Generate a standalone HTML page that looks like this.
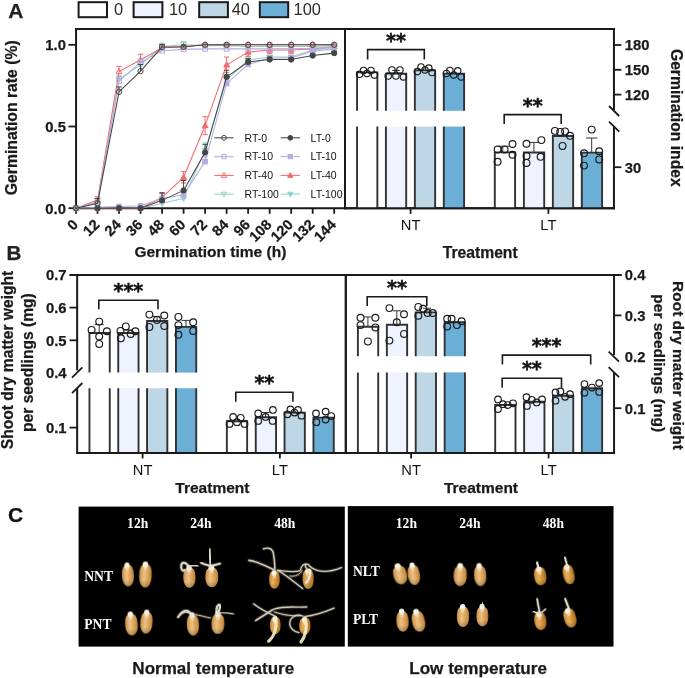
<!DOCTYPE html>
<html><head><meta charset="utf-8"><title>Figure</title>
<style>html,body{margin:0;padding:0;background:#fff}svg{display:block;opacity:0.999}</style></head>
<body>
<svg width="685" height="678" viewBox="0 0 685 678">
<rect width="685" height="678" fill="#fff"/>
<text x="8.30" y="17.90" font-family='"Liberation Sans", Arial, sans-serif' font-size="21" font-weight="bold" text-anchor="start" fill="#222"  stroke="#222" stroke-width="0.25">A</text>
<text x="6.50" y="260.00" font-family='"Liberation Sans", Arial, sans-serif' font-size="20.6" font-weight="bold" text-anchor="start" fill="#222"  stroke="#222" stroke-width="0.25">B</text>
<text x="8.00" y="522.20" font-family='"Liberation Sans", Arial, sans-serif' font-size="21.1" font-weight="bold" text-anchor="start" fill="#111"  stroke="#111" stroke-width="0.25">C</text>
<rect x="78.60" y="2.2" width="28.40" height="15.0" fill="#ffffff" stroke="#1a1a1a" stroke-width="2.0"/>
<text x="113.90" y="15.20" font-family='"Liberation Sans", Arial, sans-serif' font-size="16.4" font-weight="normal" text-anchor="start" fill="#2b2b2b" >0</text>
<rect x="133.60" y="2.2" width="28.80" height="15.0" fill="#eff3ff" stroke="#1a1a1a" stroke-width="2.0"/>
<text x="169.00" y="15.20" font-family='"Liberation Sans", Arial, sans-serif' font-size="16.4" font-weight="normal" text-anchor="start" fill="#2b2b2b" >10</text>
<rect x="199.20" y="2.2" width="28.70" height="15.0" fill="#bdd7e7" stroke="#1a1a1a" stroke-width="2.0"/>
<text x="231.70" y="15.20" font-family='"Liberation Sans", Arial, sans-serif' font-size="16.4" font-weight="normal" text-anchor="start" fill="#2b2b2b" >40</text>
<rect x="259.80" y="2.2" width="28.40" height="15.0" fill="#6baed6" stroke="#1a1a1a" stroke-width="2.0"/>
<text x="293.60" y="15.20" font-family='"Liberation Sans", Arial, sans-serif' font-size="16.4" font-weight="normal" text-anchor="start" fill="#2b2b2b" >100</text>
<line x1="76.05" y1="27.95" x2="76.05" y2="209.20" stroke="#1a1a1a" stroke-width="2.0" />
<line x1="75.05" y1="28.95" x2="614.95" y2="28.95" stroke="#1a1a1a" stroke-width="2.0" />
<line x1="345.00" y1="28.95" x2="345.00" y2="209.20" stroke="#1a1a1a" stroke-width="2.0" />
<line x1="76.05" y1="208.20" x2="614.95" y2="208.20" stroke="#1a1a1a" stroke-width="2.0" />
<line x1="68.45" y1="44.80" x2="76.05" y2="44.80" stroke="#1a1a1a" stroke-width="1.8" />
<text x="65.90" y="50.10" font-family='"Liberation Sans", Arial, sans-serif' font-size="14.8" font-weight="bold" text-anchor="end" fill="#1a1a1a"  stroke="#1a1a1a" stroke-width="0.25">1.0</text>
<line x1="68.45" y1="126.50" x2="76.05" y2="126.50" stroke="#1a1a1a" stroke-width="1.8" />
<text x="65.90" y="131.80" font-family='"Liberation Sans", Arial, sans-serif' font-size="14.8" font-weight="bold" text-anchor="end" fill="#1a1a1a"  stroke="#1a1a1a" stroke-width="0.25">0.5</text>
<line x1="68.45" y1="208.20" x2="76.05" y2="208.20" stroke="#1a1a1a" stroke-width="1.8" />
<text x="65.90" y="213.50" font-family='"Liberation Sans", Arial, sans-serif' font-size="14.8" font-weight="bold" text-anchor="end" fill="#1a1a1a"  stroke="#1a1a1a" stroke-width="0.25">0.0</text>
<line x1="76.00" y1="208.20" x2="76.00" y2="213.80" stroke="#1a1a1a" stroke-width="1.8" />
<text transform="translate(78.90,225.60) rotate(-45)" font-family='"Liberation Sans", Arial, sans-serif' font-size="14.6" font-weight="bold" text-anchor="end" fill="#1a1a1a" stroke="#1a1a1a" stroke-width="0.25">0</text>
<line x1="97.52" y1="208.20" x2="97.52" y2="213.80" stroke="#1a1a1a" stroke-width="1.8" />
<text transform="translate(100.42,225.60) rotate(-45)" font-family='"Liberation Sans", Arial, sans-serif' font-size="14.6" font-weight="bold" text-anchor="end" fill="#1a1a1a" stroke="#1a1a1a" stroke-width="0.25">12</text>
<line x1="119.03" y1="208.20" x2="119.03" y2="213.80" stroke="#1a1a1a" stroke-width="1.8" />
<text transform="translate(121.93,225.60) rotate(-45)" font-family='"Liberation Sans", Arial, sans-serif' font-size="14.6" font-weight="bold" text-anchor="end" fill="#1a1a1a" stroke="#1a1a1a" stroke-width="0.25">24</text>
<line x1="140.55" y1="208.20" x2="140.55" y2="213.80" stroke="#1a1a1a" stroke-width="1.8" />
<text transform="translate(143.45,225.60) rotate(-45)" font-family='"Liberation Sans", Arial, sans-serif' font-size="14.6" font-weight="bold" text-anchor="end" fill="#1a1a1a" stroke="#1a1a1a" stroke-width="0.25">36</text>
<line x1="162.07" y1="208.20" x2="162.07" y2="213.80" stroke="#1a1a1a" stroke-width="1.8" />
<text transform="translate(164.97,225.60) rotate(-45)" font-family='"Liberation Sans", Arial, sans-serif' font-size="14.6" font-weight="bold" text-anchor="end" fill="#1a1a1a" stroke="#1a1a1a" stroke-width="0.25">48</text>
<line x1="183.58" y1="208.20" x2="183.58" y2="213.80" stroke="#1a1a1a" stroke-width="1.8" />
<text transform="translate(186.48,225.60) rotate(-45)" font-family='"Liberation Sans", Arial, sans-serif' font-size="14.6" font-weight="bold" text-anchor="end" fill="#1a1a1a" stroke="#1a1a1a" stroke-width="0.25">60</text>
<line x1="205.10" y1="208.20" x2="205.10" y2="213.80" stroke="#1a1a1a" stroke-width="1.8" />
<text transform="translate(208.00,225.60) rotate(-45)" font-family='"Liberation Sans", Arial, sans-serif' font-size="14.6" font-weight="bold" text-anchor="end" fill="#1a1a1a" stroke="#1a1a1a" stroke-width="0.25">72</text>
<line x1="226.62" y1="208.20" x2="226.62" y2="213.80" stroke="#1a1a1a" stroke-width="1.8" />
<text transform="translate(229.52,225.60) rotate(-45)" font-family='"Liberation Sans", Arial, sans-serif' font-size="14.6" font-weight="bold" text-anchor="end" fill="#1a1a1a" stroke="#1a1a1a" stroke-width="0.25">84</text>
<line x1="248.13" y1="208.20" x2="248.13" y2="213.80" stroke="#1a1a1a" stroke-width="1.8" />
<text transform="translate(251.03,225.60) rotate(-45)" font-family='"Liberation Sans", Arial, sans-serif' font-size="14.6" font-weight="bold" text-anchor="end" fill="#1a1a1a" stroke="#1a1a1a" stroke-width="0.25">96</text>
<line x1="269.65" y1="208.20" x2="269.65" y2="213.80" stroke="#1a1a1a" stroke-width="1.8" />
<text transform="translate(272.55,225.60) rotate(-45)" font-family='"Liberation Sans", Arial, sans-serif' font-size="14.6" font-weight="bold" text-anchor="end" fill="#1a1a1a" stroke="#1a1a1a" stroke-width="0.25">108</text>
<line x1="291.17" y1="208.20" x2="291.17" y2="213.80" stroke="#1a1a1a" stroke-width="1.8" />
<text transform="translate(294.07,225.60) rotate(-45)" font-family='"Liberation Sans", Arial, sans-serif' font-size="14.6" font-weight="bold" text-anchor="end" fill="#1a1a1a" stroke="#1a1a1a" stroke-width="0.25">120</text>
<line x1="312.68" y1="208.20" x2="312.68" y2="213.80" stroke="#1a1a1a" stroke-width="1.8" />
<text transform="translate(315.58,225.60) rotate(-45)" font-family='"Liberation Sans", Arial, sans-serif' font-size="14.6" font-weight="bold" text-anchor="end" fill="#1a1a1a" stroke="#1a1a1a" stroke-width="0.25">132</text>
<line x1="334.20" y1="208.20" x2="334.20" y2="213.80" stroke="#1a1a1a" stroke-width="1.8" />
<text transform="translate(337.10,225.60) rotate(-45)" font-family='"Liberation Sans", Arial, sans-serif' font-size="14.6" font-weight="bold" text-anchor="end" fill="#1a1a1a" stroke="#1a1a1a" stroke-width="0.25">144</text>
<text transform="translate(17.40,117.80) rotate(-90)" font-family='"Liberation Sans", Arial, sans-serif' font-size="15.75" font-weight="bold" text-anchor="middle" fill="#1a1a1a" stroke="#1a1a1a" stroke-width="0.25">Germination rate (%)</text>
<text x="210.40" y="256.90" font-family='"Liberation Sans", Arial, sans-serif' font-size="15.55" font-weight="bold" text-anchor="middle" fill="#1a1a1a"  stroke="#1a1a1a" stroke-width="0.25">Germination time (h)</text>
<polyline points="76.00,208.20 97.52,208.20 119.03,208.20 140.55,208.20 162.07,203.30 183.58,198.40 205.10,150.19 226.62,79.77 248.13,60.00 269.65,57.06 291.17,57.06 312.68,50.03 334.20,47.58" fill="none" stroke="#8fd0cb" stroke-width="1.05" stroke-linejoin="round"/>
<line x1="162.07" y1="200.03" x2="162.07" y2="203.30" stroke="#8fd0cb" stroke-width="1" />
<line x1="159.37" y1="200.03" x2="164.77" y2="200.03" stroke="#8fd0cb" stroke-width="1" />
<line x1="183.58" y1="195.13" x2="183.58" y2="198.40" stroke="#8fd0cb" stroke-width="1" />
<line x1="180.88" y1="195.13" x2="186.28" y2="195.13" stroke="#8fd0cb" stroke-width="1" />
<line x1="205.10" y1="142.84" x2="205.10" y2="150.19" stroke="#8fd0cb" stroke-width="1" />
<line x1="202.40" y1="142.84" x2="207.80" y2="142.84" stroke="#8fd0cb" stroke-width="1" />
<line x1="226.62" y1="74.87" x2="226.62" y2="79.77" stroke="#8fd0cb" stroke-width="1" />
<line x1="223.92" y1="74.87" x2="229.32" y2="74.87" stroke="#8fd0cb" stroke-width="1" />
<line x1="248.13" y1="56.73" x2="248.13" y2="60.00" stroke="#8fd0cb" stroke-width="1" />
<line x1="245.43" y1="56.73" x2="250.83" y2="56.73" stroke="#8fd0cb" stroke-width="1" />
<path d="M76.00 211.25 L78.92 206.08 L73.08 206.08 Z" fill="#8fd0cb" stroke="#8fd0cb" stroke-width="1"/>
<path d="M97.52 211.25 L100.43 206.08 L94.60 206.08 Z" fill="#8fd0cb" stroke="#8fd0cb" stroke-width="1"/>
<path d="M119.03 211.25 L121.95 206.08 L116.12 206.08 Z" fill="#8fd0cb" stroke="#8fd0cb" stroke-width="1"/>
<path d="M140.55 211.25 L143.47 206.08 L137.64 206.08 Z" fill="#8fd0cb" stroke="#8fd0cb" stroke-width="1"/>
<path d="M162.07 206.35 L164.98 201.18 L159.15 201.18 Z" fill="#8fd0cb" stroke="#8fd0cb" stroke-width="1"/>
<path d="M183.58 201.44 L186.50 196.28 L180.67 196.28 Z" fill="#8fd0cb" stroke="#8fd0cb" stroke-width="1"/>
<path d="M205.10 153.24 L208.01 148.07 L202.19 148.07 Z" fill="#8fd0cb" stroke="#8fd0cb" stroke-width="1"/>
<path d="M226.62 82.82 L229.53 77.65 L223.70 77.65 Z" fill="#8fd0cb" stroke="#8fd0cb" stroke-width="1"/>
<path d="M248.13 63.04 L251.05 57.88 L245.22 57.88 Z" fill="#8fd0cb" stroke="#8fd0cb" stroke-width="1"/>
<path d="M269.65 60.10 L272.56 54.94 L266.73 54.94 Z" fill="#8fd0cb" stroke="#8fd0cb" stroke-width="1"/>
<path d="M291.17 60.10 L294.08 54.94 L288.25 54.94 Z" fill="#8fd0cb" stroke="#8fd0cb" stroke-width="1"/>
<path d="M312.68 53.08 L315.60 47.91 L309.77 47.91 Z" fill="#8fd0cb" stroke="#8fd0cb" stroke-width="1"/>
<path d="M334.20 50.63 L337.12 45.46 L331.28 45.46 Z" fill="#8fd0cb" stroke="#8fd0cb" stroke-width="1"/>
<polyline points="76.00,208.20 97.52,208.20 119.03,208.20 140.55,208.20 162.07,197.42 183.58,177.32 205.10,125.68 226.62,64.90 248.13,52.15 269.65,50.03 291.17,50.03 312.68,48.89 334.20,46.43" fill="none" stroke="#f4686c" stroke-width="1.05" stroke-linejoin="round"/>
<line x1="162.07" y1="192.51" x2="162.07" y2="202.32" stroke="#f4686c" stroke-width="1" />
<line x1="159.37" y1="192.51" x2="164.77" y2="192.51" stroke="#f4686c" stroke-width="1" />
<line x1="159.37" y1="202.32" x2="164.77" y2="202.32" stroke="#f4686c" stroke-width="1" />
<line x1="183.58" y1="171.60" x2="183.58" y2="183.04" stroke="#f4686c" stroke-width="1" />
<line x1="180.88" y1="171.60" x2="186.28" y2="171.60" stroke="#f4686c" stroke-width="1" />
<line x1="180.88" y1="183.04" x2="186.28" y2="183.04" stroke="#f4686c" stroke-width="1" />
<line x1="205.10" y1="116.70" x2="205.10" y2="134.67" stroke="#f4686c" stroke-width="1" />
<line x1="202.40" y1="116.70" x2="207.80" y2="116.70" stroke="#f4686c" stroke-width="1" />
<line x1="202.40" y1="134.67" x2="207.80" y2="134.67" stroke="#f4686c" stroke-width="1" />
<line x1="226.62" y1="57.06" x2="226.62" y2="72.74" stroke="#f4686c" stroke-width="1" />
<line x1="223.92" y1="57.06" x2="229.32" y2="57.06" stroke="#f4686c" stroke-width="1" />
<line x1="223.92" y1="72.74" x2="229.32" y2="72.74" stroke="#f4686c" stroke-width="1" />
<line x1="248.13" y1="48.07" x2="248.13" y2="56.24" stroke="#f4686c" stroke-width="1" />
<line x1="245.43" y1="48.07" x2="250.83" y2="48.07" stroke="#f4686c" stroke-width="1" />
<line x1="245.43" y1="56.24" x2="250.83" y2="56.24" stroke="#f4686c" stroke-width="1" />
<line x1="269.65" y1="46.76" x2="269.65" y2="53.30" stroke="#f4686c" stroke-width="1" />
<line x1="266.95" y1="46.76" x2="272.35" y2="46.76" stroke="#f4686c" stroke-width="1" />
<line x1="266.95" y1="53.30" x2="272.35" y2="53.30" stroke="#f4686c" stroke-width="1" />
<line x1="291.17" y1="46.76" x2="291.17" y2="53.30" stroke="#f4686c" stroke-width="1" />
<line x1="288.47" y1="46.76" x2="293.87" y2="46.76" stroke="#f4686c" stroke-width="1" />
<line x1="288.47" y1="53.30" x2="293.87" y2="53.30" stroke="#f4686c" stroke-width="1" />
<line x1="312.68" y1="45.62" x2="312.68" y2="52.15" stroke="#f4686c" stroke-width="1" />
<line x1="309.98" y1="45.62" x2="315.38" y2="45.62" stroke="#f4686c" stroke-width="1" />
<line x1="309.98" y1="52.15" x2="315.38" y2="52.15" stroke="#f4686c" stroke-width="1" />
<line x1="334.20" y1="44.80" x2="334.20" y2="48.07" stroke="#f4686c" stroke-width="1" />
<line x1="331.50" y1="44.80" x2="336.90" y2="44.80" stroke="#f4686c" stroke-width="1" />
<line x1="331.50" y1="48.07" x2="336.90" y2="48.07" stroke="#f4686c" stroke-width="1" />
<path d="M76.00 205.15 L78.92 210.32 L73.08 210.32 Z" fill="#f4686c" stroke="#f4686c" stroke-width="1"/>
<path d="M97.52 205.15 L100.43 210.32 L94.60 210.32 Z" fill="#f4686c" stroke="#f4686c" stroke-width="1"/>
<path d="M119.03 205.15 L121.95 210.32 L116.12 210.32 Z" fill="#f4686c" stroke="#f4686c" stroke-width="1"/>
<path d="M140.55 205.15 L143.47 210.32 L137.64 210.32 Z" fill="#f4686c" stroke="#f4686c" stroke-width="1"/>
<path d="M162.07 194.37 L164.98 199.54 L159.15 199.54 Z" fill="#f4686c" stroke="#f4686c" stroke-width="1"/>
<path d="M183.58 174.27 L186.50 179.44 L180.67 179.44 Z" fill="#f4686c" stroke="#f4686c" stroke-width="1"/>
<path d="M205.10 122.64 L208.01 127.80 L202.19 127.80 Z" fill="#f4686c" stroke="#f4686c" stroke-width="1"/>
<path d="M226.62 61.85 L229.53 67.02 L223.70 67.02 Z" fill="#f4686c" stroke="#f4686c" stroke-width="1"/>
<path d="M248.13 49.11 L251.05 54.27 L245.22 54.27 Z" fill="#f4686c" stroke="#f4686c" stroke-width="1"/>
<path d="M269.65 46.98 L272.56 52.15 L266.73 52.15 Z" fill="#f4686c" stroke="#f4686c" stroke-width="1"/>
<path d="M291.17 46.98 L294.08 52.15 L288.25 52.15 Z" fill="#f4686c" stroke="#f4686c" stroke-width="1"/>
<path d="M312.68 45.84 L315.60 51.01 L309.77 51.01 Z" fill="#f4686c" stroke="#f4686c" stroke-width="1"/>
<path d="M334.20 43.39 L337.12 48.55 L331.28 48.55 Z" fill="#f4686c" stroke="#f4686c" stroke-width="1"/>
<polyline points="76.00,208.20 97.52,207.38 119.03,206.57 140.55,205.75 162.07,198.40 183.58,194.80 205.10,161.63 226.62,83.53 248.13,64.41 269.65,58.04 291.17,58.04 312.68,51.34 334.20,48.89" fill="none" stroke="#b3addf" stroke-width="1.05" stroke-linejoin="round"/>
<line x1="162.07" y1="193.49" x2="162.07" y2="198.40" stroke="#b3addf" stroke-width="1" />
<line x1="159.37" y1="193.49" x2="164.77" y2="193.49" stroke="#b3addf" stroke-width="1" />
<line x1="183.58" y1="189.90" x2="183.58" y2="194.80" stroke="#b3addf" stroke-width="1" />
<line x1="180.88" y1="189.90" x2="186.28" y2="189.90" stroke="#b3addf" stroke-width="1" />
<line x1="205.10" y1="156.73" x2="205.10" y2="161.63" stroke="#b3addf" stroke-width="1" />
<line x1="202.40" y1="156.73" x2="207.80" y2="156.73" stroke="#b3addf" stroke-width="1" />
<line x1="226.62" y1="78.62" x2="226.62" y2="83.53" stroke="#b3addf" stroke-width="1" />
<line x1="223.92" y1="78.62" x2="229.32" y2="78.62" stroke="#b3addf" stroke-width="1" />
<line x1="248.13" y1="61.14" x2="248.13" y2="64.41" stroke="#b3addf" stroke-width="1" />
<line x1="245.43" y1="61.14" x2="250.83" y2="61.14" stroke="#b3addf" stroke-width="1" />
<rect x="73.67" y="205.87" width="4.66" height="4.66" fill="#b3addf" stroke="#b3addf" stroke-width="1"/>
<rect x="95.18" y="205.05" width="4.66" height="4.66" fill="#b3addf" stroke="#b3addf" stroke-width="1"/>
<rect x="116.70" y="204.23" width="4.66" height="4.66" fill="#b3addf" stroke="#b3addf" stroke-width="1"/>
<rect x="138.22" y="203.42" width="4.66" height="4.66" fill="#b3addf" stroke="#b3addf" stroke-width="1"/>
<rect x="159.73" y="196.06" width="4.66" height="4.66" fill="#b3addf" stroke="#b3addf" stroke-width="1"/>
<rect x="181.25" y="192.47" width="4.66" height="4.66" fill="#b3addf" stroke="#b3addf" stroke-width="1"/>
<rect x="202.77" y="159.30" width="4.66" height="4.66" fill="#b3addf" stroke="#b3addf" stroke-width="1"/>
<rect x="224.28" y="81.19" width="4.66" height="4.66" fill="#b3addf" stroke="#b3addf" stroke-width="1"/>
<rect x="245.80" y="62.08" width="4.66" height="4.66" fill="#b3addf" stroke="#b3addf" stroke-width="1"/>
<rect x="267.32" y="55.70" width="4.66" height="4.66" fill="#b3addf" stroke="#b3addf" stroke-width="1"/>
<rect x="288.83" y="55.70" width="4.66" height="4.66" fill="#b3addf" stroke="#b3addf" stroke-width="1"/>
<rect x="310.35" y="49.00" width="4.66" height="4.66" fill="#b3addf" stroke="#b3addf" stroke-width="1"/>
<rect x="331.87" y="46.55" width="4.66" height="4.66" fill="#b3addf" stroke="#b3addf" stroke-width="1"/>
<polyline points="76.00,208.20 97.52,208.20 119.03,208.20 140.55,208.20 162.07,200.36 183.58,190.39 205.10,152.48 226.62,76.83 248.13,61.96 269.65,59.51 291.17,59.51 312.68,55.58 334.20,53.13" fill="none" stroke="#454545" stroke-width="1.05" stroke-linejoin="round"/>
<line x1="162.07" y1="193.00" x2="162.07" y2="200.36" stroke="#454545" stroke-width="1" />
<line x1="159.37" y1="193.00" x2="164.77" y2="193.00" stroke="#454545" stroke-width="1" />
<line x1="183.58" y1="180.59" x2="183.58" y2="190.39" stroke="#454545" stroke-width="1" />
<line x1="180.88" y1="180.59" x2="186.28" y2="180.59" stroke="#454545" stroke-width="1" />
<line x1="205.10" y1="144.31" x2="205.10" y2="152.48" stroke="#454545" stroke-width="1" />
<line x1="202.40" y1="144.31" x2="207.80" y2="144.31" stroke="#454545" stroke-width="1" />
<line x1="226.62" y1="70.29" x2="226.62" y2="76.83" stroke="#454545" stroke-width="1" />
<line x1="223.92" y1="70.29" x2="229.32" y2="70.29" stroke="#454545" stroke-width="1" />
<line x1="248.13" y1="58.69" x2="248.13" y2="61.96" stroke="#454545" stroke-width="1" />
<line x1="245.43" y1="58.69" x2="250.83" y2="58.69" stroke="#454545" stroke-width="1" />
<line x1="269.65" y1="57.06" x2="269.65" y2="59.51" stroke="#454545" stroke-width="1" />
<line x1="266.95" y1="57.06" x2="272.35" y2="57.06" stroke="#454545" stroke-width="1" />
<line x1="291.17" y1="57.87" x2="291.17" y2="59.51" stroke="#454545" stroke-width="1" />
<line x1="288.47" y1="57.87" x2="293.87" y2="57.87" stroke="#454545" stroke-width="1" />
<line x1="312.68" y1="53.95" x2="312.68" y2="55.58" stroke="#454545" stroke-width="1" />
<line x1="309.98" y1="53.95" x2="315.38" y2="53.95" stroke="#454545" stroke-width="1" />
<line x1="334.20" y1="51.50" x2="334.20" y2="53.13" stroke="#454545" stroke-width="1" />
<line x1="331.50" y1="51.50" x2="336.90" y2="51.50" stroke="#454545" stroke-width="1" />
<circle cx="76.00" cy="208.20" r="2.65" fill="#454545" stroke="#454545" stroke-width="1"/>
<circle cx="97.52" cy="208.20" r="2.65" fill="#454545" stroke="#454545" stroke-width="1"/>
<circle cx="119.03" cy="208.20" r="2.65" fill="#454545" stroke="#454545" stroke-width="1"/>
<circle cx="140.55" cy="208.20" r="2.65" fill="#454545" stroke="#454545" stroke-width="1"/>
<circle cx="162.07" cy="200.36" r="2.65" fill="#454545" stroke="#454545" stroke-width="1"/>
<circle cx="183.58" cy="190.39" r="2.65" fill="#454545" stroke="#454545" stroke-width="1"/>
<circle cx="205.10" cy="152.48" r="2.65" fill="#454545" stroke="#454545" stroke-width="1"/>
<circle cx="226.62" cy="76.83" r="2.65" fill="#454545" stroke="#454545" stroke-width="1"/>
<circle cx="248.13" cy="61.96" r="2.65" fill="#454545" stroke="#454545" stroke-width="1"/>
<circle cx="269.65" cy="59.51" r="2.65" fill="#454545" stroke="#454545" stroke-width="1"/>
<circle cx="291.17" cy="59.51" r="2.65" fill="#454545" stroke="#454545" stroke-width="1"/>
<circle cx="312.68" cy="55.58" r="2.65" fill="#454545" stroke="#454545" stroke-width="1"/>
<circle cx="334.20" cy="53.13" r="2.65" fill="#454545" stroke="#454545" stroke-width="1"/>
<polyline points="76.00,208.20 97.52,203.30 119.03,79.11 140.55,64.90 162.07,46.43 183.58,44.80 205.10,45.62 226.62,45.62 248.13,46.43 269.65,46.43 291.17,46.43 312.68,46.43 334.20,45.62" fill="none" stroke="#8fd0cb" stroke-width="1.05" stroke-linejoin="round"/>
<line x1="97.52" y1="200.03" x2="97.52" y2="203.30" stroke="#8fd0cb" stroke-width="1" />
<line x1="94.82" y1="200.03" x2="100.22" y2="200.03" stroke="#8fd0cb" stroke-width="1" />
<line x1="119.03" y1="75.85" x2="119.03" y2="79.11" stroke="#8fd0cb" stroke-width="1" />
<line x1="116.33" y1="75.85" x2="121.73" y2="75.85" stroke="#8fd0cb" stroke-width="1" />
<line x1="140.55" y1="61.63" x2="140.55" y2="64.90" stroke="#8fd0cb" stroke-width="1" />
<line x1="137.85" y1="61.63" x2="143.25" y2="61.63" stroke="#8fd0cb" stroke-width="1" />
<line x1="162.07" y1="43.17" x2="162.07" y2="46.43" stroke="#8fd0cb" stroke-width="1" />
<line x1="159.37" y1="43.17" x2="164.77" y2="43.17" stroke="#8fd0cb" stroke-width="1" />
<line x1="183.58" y1="41.53" x2="183.58" y2="44.80" stroke="#8fd0cb" stroke-width="1" />
<line x1="180.88" y1="41.53" x2="186.28" y2="41.53" stroke="#8fd0cb" stroke-width="1" />
<path d="M76.00 211.25 L78.92 206.08 L73.08 206.08 Z" fill="#fff" fill-opacity="0.0" stroke="#8fd0cb" stroke-width="1"/>
<path d="M97.52 206.35 L100.43 201.18 L94.60 201.18 Z" fill="#fff" fill-opacity="0.0" stroke="#8fd0cb" stroke-width="1"/>
<path d="M119.03 82.16 L121.95 76.99 L116.12 76.99 Z" fill="#fff" fill-opacity="0.0" stroke="#8fd0cb" stroke-width="1"/>
<path d="M140.55 67.95 L143.47 62.78 L137.64 62.78 Z" fill="#fff" fill-opacity="0.0" stroke="#8fd0cb" stroke-width="1"/>
<path d="M162.07 49.48 L164.98 44.31 L159.15 44.31 Z" fill="#fff" fill-opacity="0.0" stroke="#8fd0cb" stroke-width="1"/>
<path d="M183.58 47.85 L186.50 42.68 L180.67 42.68 Z" fill="#fff" fill-opacity="0.0" stroke="#8fd0cb" stroke-width="1"/>
<path d="M205.10 48.66 L208.01 43.50 L202.19 43.50 Z" fill="#fff" fill-opacity="0.0" stroke="#8fd0cb" stroke-width="1"/>
<path d="M226.62 48.66 L229.53 43.50 L223.70 43.50 Z" fill="#fff" fill-opacity="0.0" stroke="#8fd0cb" stroke-width="1"/>
<path d="M248.13 49.48 L251.05 44.31 L245.22 44.31 Z" fill="#fff" fill-opacity="0.0" stroke="#8fd0cb" stroke-width="1"/>
<path d="M269.65 49.48 L272.56 44.31 L266.73 44.31 Z" fill="#fff" fill-opacity="0.0" stroke="#8fd0cb" stroke-width="1"/>
<path d="M291.17 49.48 L294.08 44.31 L288.25 44.31 Z" fill="#fff" fill-opacity="0.0" stroke="#8fd0cb" stroke-width="1"/>
<path d="M312.68 49.48 L315.60 44.31 L309.77 44.31 Z" fill="#fff" fill-opacity="0.0" stroke="#8fd0cb" stroke-width="1"/>
<path d="M334.20 48.66 L337.12 43.50 L331.28 43.50 Z" fill="#fff" fill-opacity="0.0" stroke="#8fd0cb" stroke-width="1"/>
<polyline points="76.00,208.20 97.52,200.03 119.03,71.60 140.55,59.83 162.07,48.07 183.58,46.43 205.10,44.80 226.62,44.80 248.13,44.80 269.65,44.80 291.17,44.80 312.68,44.80 334.20,44.80" fill="none" stroke="#f4686c" stroke-width="1.05" stroke-linejoin="round"/>
<line x1="97.52" y1="196.76" x2="97.52" y2="200.03" stroke="#f4686c" stroke-width="1" />
<line x1="94.82" y1="196.76" x2="100.22" y2="196.76" stroke="#f4686c" stroke-width="1" />
<line x1="119.03" y1="66.37" x2="119.03" y2="71.60" stroke="#f4686c" stroke-width="1" />
<line x1="116.33" y1="66.37" x2="121.73" y2="66.37" stroke="#f4686c" stroke-width="1" />
<line x1="140.55" y1="54.28" x2="140.55" y2="59.83" stroke="#f4686c" stroke-width="1" />
<line x1="137.85" y1="54.28" x2="143.25" y2="54.28" stroke="#f4686c" stroke-width="1" />
<line x1="162.07" y1="44.80" x2="162.07" y2="48.07" stroke="#f4686c" stroke-width="1" />
<line x1="159.37" y1="44.80" x2="164.77" y2="44.80" stroke="#f4686c" stroke-width="1" />
<path d="M76.00 205.15 L78.92 210.32 L73.08 210.32 Z" fill="#fff" fill-opacity="0.0" stroke="#f4686c" stroke-width="1"/>
<path d="M97.52 196.98 L100.43 202.15 L94.60 202.15 Z" fill="#fff" fill-opacity="0.0" stroke="#f4686c" stroke-width="1"/>
<path d="M119.03 68.55 L121.95 73.72 L116.12 73.72 Z" fill="#fff" fill-opacity="0.0" stroke="#f4686c" stroke-width="1"/>
<path d="M140.55 56.79 L143.47 61.95 L137.64 61.95 Z" fill="#fff" fill-opacity="0.0" stroke="#f4686c" stroke-width="1"/>
<path d="M162.07 45.02 L164.98 50.19 L159.15 50.19 Z" fill="#fff" fill-opacity="0.0" stroke="#f4686c" stroke-width="1"/>
<path d="M183.58 43.39 L186.50 48.55 L180.67 48.55 Z" fill="#fff" fill-opacity="0.0" stroke="#f4686c" stroke-width="1"/>
<path d="M205.10 41.75 L208.01 46.92 L202.19 46.92 Z" fill="#fff" fill-opacity="0.0" stroke="#f4686c" stroke-width="1"/>
<path d="M226.62 41.75 L229.53 46.92 L223.70 46.92 Z" fill="#fff" fill-opacity="0.0" stroke="#f4686c" stroke-width="1"/>
<path d="M248.13 41.75 L251.05 46.92 L245.22 46.92 Z" fill="#fff" fill-opacity="0.0" stroke="#f4686c" stroke-width="1"/>
<path d="M269.65 41.75 L272.56 46.92 L266.73 46.92 Z" fill="#fff" fill-opacity="0.0" stroke="#f4686c" stroke-width="1"/>
<path d="M291.17 41.75 L294.08 46.92 L288.25 46.92 Z" fill="#fff" fill-opacity="0.0" stroke="#f4686c" stroke-width="1"/>
<path d="M312.68 41.75 L315.60 46.92 L309.77 46.92 Z" fill="#fff" fill-opacity="0.0" stroke="#f4686c" stroke-width="1"/>
<path d="M334.20 41.75 L337.12 46.92 L331.28 46.92 Z" fill="#fff" fill-opacity="0.0" stroke="#f4686c" stroke-width="1"/>
<polyline points="76.00,208.20 97.52,201.66 119.03,81.07 140.55,62.28 162.07,50.68 183.58,49.38 205.10,48.89 226.62,48.89 248.13,48.89 269.65,48.89 291.17,48.89 312.68,48.39 334.20,47.25" fill="none" stroke="#b3addf" stroke-width="1.05" stroke-linejoin="round"/>
<line x1="97.52" y1="198.40" x2="97.52" y2="201.66" stroke="#b3addf" stroke-width="1" />
<line x1="94.82" y1="198.40" x2="100.22" y2="198.40" stroke="#b3addf" stroke-width="1" />
<line x1="119.03" y1="76.17" x2="119.03" y2="81.07" stroke="#b3addf" stroke-width="1" />
<line x1="116.33" y1="76.17" x2="121.73" y2="76.17" stroke="#b3addf" stroke-width="1" />
<line x1="140.55" y1="59.02" x2="140.55" y2="62.28" stroke="#b3addf" stroke-width="1" />
<line x1="137.85" y1="59.02" x2="143.25" y2="59.02" stroke="#b3addf" stroke-width="1" />
<line x1="162.07" y1="49.05" x2="162.07" y2="50.68" stroke="#b3addf" stroke-width="1" />
<line x1="159.37" y1="49.05" x2="164.77" y2="49.05" stroke="#b3addf" stroke-width="1" />
<rect x="73.67" y="205.87" width="4.66" height="4.66" fill="#fff" fill-opacity="0.0" stroke="#b3addf" stroke-width="1"/>
<rect x="95.18" y="199.33" width="4.66" height="4.66" fill="#fff" fill-opacity="0.0" stroke="#b3addf" stroke-width="1"/>
<rect x="116.70" y="78.74" width="4.66" height="4.66" fill="#fff" fill-opacity="0.0" stroke="#b3addf" stroke-width="1"/>
<rect x="138.22" y="59.95" width="4.66" height="4.66" fill="#fff" fill-opacity="0.0" stroke="#b3addf" stroke-width="1"/>
<rect x="159.73" y="48.35" width="4.66" height="4.66" fill="#fff" fill-opacity="0.0" stroke="#b3addf" stroke-width="1"/>
<rect x="181.25" y="47.04" width="4.66" height="4.66" fill="#fff" fill-opacity="0.0" stroke="#b3addf" stroke-width="1"/>
<rect x="202.77" y="46.55" width="4.66" height="4.66" fill="#fff" fill-opacity="0.0" stroke="#b3addf" stroke-width="1"/>
<rect x="224.28" y="46.55" width="4.66" height="4.66" fill="#fff" fill-opacity="0.0" stroke="#b3addf" stroke-width="1"/>
<rect x="245.80" y="46.55" width="4.66" height="4.66" fill="#fff" fill-opacity="0.0" stroke="#b3addf" stroke-width="1"/>
<rect x="267.32" y="46.55" width="4.66" height="4.66" fill="#fff" fill-opacity="0.0" stroke="#b3addf" stroke-width="1"/>
<rect x="288.83" y="46.55" width="4.66" height="4.66" fill="#fff" fill-opacity="0.0" stroke="#b3addf" stroke-width="1"/>
<rect x="310.35" y="46.06" width="4.66" height="4.66" fill="#fff" fill-opacity="0.0" stroke="#b3addf" stroke-width="1"/>
<rect x="331.87" y="44.92" width="4.66" height="4.66" fill="#fff" fill-opacity="0.0" stroke="#b3addf" stroke-width="1"/>
<polyline points="76.00,208.20 97.52,203.30 119.03,91.86 140.55,71.11 162.07,46.92 183.58,46.92 205.10,44.80 226.62,44.80 248.13,44.80 269.65,44.80 291.17,44.80 312.68,44.80 334.20,44.80" fill="none" stroke="#454545" stroke-width="1.05" stroke-linejoin="round"/>
<line x1="97.52" y1="198.40" x2="97.52" y2="203.30" stroke="#454545" stroke-width="1" />
<line x1="94.82" y1="198.40" x2="100.22" y2="198.40" stroke="#454545" stroke-width="1" />
<line x1="119.03" y1="86.96" x2="119.03" y2="91.86" stroke="#454545" stroke-width="1" />
<line x1="116.33" y1="86.96" x2="121.73" y2="86.96" stroke="#454545" stroke-width="1" />
<line x1="140.55" y1="64.57" x2="140.55" y2="71.11" stroke="#454545" stroke-width="1" />
<line x1="137.85" y1="64.57" x2="143.25" y2="64.57" stroke="#454545" stroke-width="1" />
<line x1="162.07" y1="44.47" x2="162.07" y2="46.92" stroke="#454545" stroke-width="1" />
<line x1="159.37" y1="44.47" x2="164.77" y2="44.47" stroke="#454545" stroke-width="1" />
<line x1="183.58" y1="45.29" x2="183.58" y2="46.92" stroke="#454545" stroke-width="1" />
<line x1="180.88" y1="45.29" x2="186.28" y2="45.29" stroke="#454545" stroke-width="1" />
<circle cx="76.00" cy="208.20" r="2.65" fill="#fff" fill-opacity="0.0" stroke="#454545" stroke-width="1"/>
<circle cx="97.52" cy="203.30" r="2.65" fill="#fff" fill-opacity="0.0" stroke="#454545" stroke-width="1"/>
<circle cx="119.03" cy="91.86" r="2.65" fill="#fff" fill-opacity="0.0" stroke="#454545" stroke-width="1"/>
<circle cx="140.55" cy="71.11" r="2.65" fill="#fff" fill-opacity="0.0" stroke="#454545" stroke-width="1"/>
<circle cx="162.07" cy="46.92" r="2.65" fill="#fff" fill-opacity="0.0" stroke="#454545" stroke-width="1"/>
<circle cx="183.58" cy="46.92" r="2.65" fill="#fff" fill-opacity="0.0" stroke="#454545" stroke-width="1"/>
<circle cx="205.10" cy="44.80" r="2.65" fill="#fff" fill-opacity="0.0" stroke="#454545" stroke-width="1"/>
<circle cx="226.62" cy="44.80" r="2.65" fill="#fff" fill-opacity="0.0" stroke="#454545" stroke-width="1"/>
<circle cx="248.13" cy="44.80" r="2.65" fill="#fff" fill-opacity="0.0" stroke="#454545" stroke-width="1"/>
<circle cx="269.65" cy="44.80" r="2.65" fill="#fff" fill-opacity="0.0" stroke="#454545" stroke-width="1"/>
<circle cx="291.17" cy="44.80" r="2.65" fill="#fff" fill-opacity="0.0" stroke="#454545" stroke-width="1"/>
<circle cx="312.68" cy="44.80" r="2.65" fill="#fff" fill-opacity="0.0" stroke="#454545" stroke-width="1"/>
<circle cx="334.20" cy="44.80" r="2.65" fill="#fff" fill-opacity="0.0" stroke="#454545" stroke-width="1"/>
<line x1="214.40" y1="137.80" x2="233.60" y2="137.80" stroke="#454545" stroke-width="1.05" />
<circle cx="224.00" cy="137.80" r="2.40" fill="#fff" fill-opacity="0.0" stroke="#454545" stroke-width="1"/>
<text x="244.60" y="141.60" font-family='"Liberation Sans", Arial, sans-serif' font-size="10.5" font-weight="normal" text-anchor="start" fill="#111" >RT-0</text>
<line x1="280.60" y1="137.80" x2="300.00" y2="137.80" stroke="#454545" stroke-width="1.05" />
<circle cx="290.30" cy="137.80" r="2.40" fill="#454545" stroke="#454545" stroke-width="1"/>
<text x="310.60" y="141.60" font-family='"Liberation Sans", Arial, sans-serif' font-size="10.5" font-weight="normal" text-anchor="start" fill="#111" >LT-0</text>
<line x1="214.40" y1="156.60" x2="233.60" y2="156.60" stroke="#b3addf" stroke-width="1.05" />
<rect x="221.89" y="154.49" width="4.22" height="4.22" fill="#fff" fill-opacity="0.0" stroke="#b3addf" stroke-width="1"/>
<text x="244.60" y="160.40" font-family='"Liberation Sans", Arial, sans-serif' font-size="10.5" font-weight="normal" text-anchor="start" fill="#111" >RT-10</text>
<line x1="280.60" y1="156.60" x2="300.00" y2="156.60" stroke="#b3addf" stroke-width="1.05" />
<rect x="288.19" y="154.49" width="4.22" height="4.22" fill="#b3addf" stroke="#b3addf" stroke-width="1"/>
<text x="310.60" y="160.40" font-family='"Liberation Sans", Arial, sans-serif' font-size="10.5" font-weight="normal" text-anchor="start" fill="#111" >LT-10</text>
<line x1="214.40" y1="175.40" x2="233.60" y2="175.40" stroke="#f4686c" stroke-width="1.05" />
<path d="M224.00 172.64 L226.64 177.32 L221.36 177.32 Z" fill="#fff" fill-opacity="0.0" stroke="#f4686c" stroke-width="1"/>
<text x="244.60" y="179.20" font-family='"Liberation Sans", Arial, sans-serif' font-size="10.5" font-weight="normal" text-anchor="start" fill="#111" >RT-40</text>
<line x1="280.60" y1="175.40" x2="300.00" y2="175.40" stroke="#f4686c" stroke-width="1.05" />
<path d="M290.30 172.64 L292.94 177.32 L287.66 177.32 Z" fill="#f4686c" stroke="#f4686c" stroke-width="1"/>
<text x="310.60" y="179.20" font-family='"Liberation Sans", Arial, sans-serif' font-size="10.5" font-weight="normal" text-anchor="start" fill="#111" >LT-40</text>
<line x1="214.40" y1="194.10" x2="233.60" y2="194.10" stroke="#8fd0cb" stroke-width="1.05" />
<path d="M224.00 196.86 L226.64 192.18 L221.36 192.18 Z" fill="#fff" fill-opacity="0.0" stroke="#8fd0cb" stroke-width="1"/>
<text x="244.60" y="197.90" font-family='"Liberation Sans", Arial, sans-serif' font-size="10.5" font-weight="normal" text-anchor="start" fill="#111" >RT-100</text>
<line x1="280.60" y1="194.10" x2="300.00" y2="194.10" stroke="#8fd0cb" stroke-width="1.05" />
<path d="M290.30 196.86 L292.94 192.18 L287.66 192.18 Z" fill="#8fd0cb" stroke="#8fd0cb" stroke-width="1"/>
<text x="310.60" y="197.90" font-family='"Liberation Sans", Arial, sans-serif' font-size="10.5" font-weight="normal" text-anchor="start" fill="#111" >LT-100</text>
<rect x="357.05" y="72.40" width="20.30" height="38.40" fill="#ffffff"/>
<rect x="357.05" y="126.60" width="20.30" height="81.60" fill="#ffffff"/>
<path d="M357.05 110.80 V72.40 H377.35 V110.80 M357.05 126.60 V208.20 M377.35 126.60 V208.20" fill="none" stroke="#303234" stroke-width="1.9"/>
<rect x="385.90" y="73.60" width="20.30" height="37.20" fill="#eff3ff"/>
<rect x="385.90" y="126.60" width="20.30" height="81.60" fill="#eff3ff"/>
<path d="M385.90 110.80 V73.60 H406.20 V110.80 M385.90 126.60 V208.20 M406.20 126.60 V208.20" fill="none" stroke="#303234" stroke-width="1.9"/>
<rect x="414.85" y="70.40" width="20.30" height="40.40" fill="#bdd7e7"/>
<rect x="414.85" y="126.60" width="20.30" height="81.60" fill="#bdd7e7"/>
<path d="M414.85 110.80 V70.40 H435.15 V110.80 M414.85 126.60 V208.20 M435.15 126.60 V208.20" fill="none" stroke="#303234" stroke-width="1.9"/>
<rect x="443.80" y="73.60" width="20.30" height="37.20" fill="#6baed6"/>
<rect x="443.80" y="126.60" width="20.30" height="81.60" fill="#6baed6"/>
<path d="M443.80 110.80 V73.60 H464.10 V110.80 M443.80 126.60 V208.20 M464.10 126.60 V208.20" fill="none" stroke="#303234" stroke-width="1.9"/>
<rect x="494.80" y="152.40" width="20.30" height="55.80" fill="#ffffff"/>
<path d="M494.80 208.20 V152.40 H515.10 V208.20" fill="none" stroke="#303234" stroke-width="1.9"/>
<rect x="523.90" y="152.50" width="20.30" height="55.70" fill="#eff3ff"/>
<path d="M523.90 208.20 V152.50 H544.20 V208.20" fill="none" stroke="#303234" stroke-width="1.9"/>
<rect x="552.85" y="136.00" width="20.30" height="72.20" fill="#bdd7e7"/>
<path d="M552.85 208.20 V136.00 H573.15 V208.20" fill="none" stroke="#303234" stroke-width="1.9"/>
<rect x="581.80" y="152.60" width="20.30" height="55.60" fill="#6baed6"/>
<path d="M581.80 208.20 V152.60 H602.10 V208.20" fill="none" stroke="#303234" stroke-width="1.9"/>
<line x1="395.90" y1="70.40" x2="395.90" y2="73.60" stroke="#333" stroke-width="1.0" />
<line x1="391.90" y1="70.40" x2="399.90" y2="70.40" stroke="#333" stroke-width="1.0" />
<line x1="502.80" y1="146.30" x2="502.80" y2="152.00" stroke="#333" stroke-width="1.0" />
<line x1="496.80" y1="146.30" x2="508.80" y2="146.30" stroke="#333" stroke-width="1.0" />
<line x1="533.90" y1="142.40" x2="533.90" y2="152.20" stroke="#333" stroke-width="1.0" />
<line x1="529.40" y1="142.40" x2="538.40" y2="142.40" stroke="#333" stroke-width="1.0" />
<line x1="591.70" y1="138.00" x2="591.70" y2="152.20" stroke="#333" stroke-width="1.0" />
<line x1="585.95" y1="138.00" x2="597.45" y2="138.00" stroke="#333" stroke-width="1.0" />
<circle cx="359.60" cy="74.30" r="3.2" fill="none" stroke="#1a1a1a" stroke-width="1.15"/>
<circle cx="363.50" cy="70.40" r="3.2" fill="none" stroke="#1a1a1a" stroke-width="1.15"/>
<circle cx="367.00" cy="73.40" r="3.2" fill="none" stroke="#1a1a1a" stroke-width="1.15"/>
<circle cx="371.00" cy="70.40" r="3.2" fill="none" stroke="#1a1a1a" stroke-width="1.15"/>
<circle cx="374.50" cy="75.10" r="3.2" fill="none" stroke="#1a1a1a" stroke-width="1.15"/>
<circle cx="388.20" cy="76.00" r="3.2" fill="none" stroke="#1a1a1a" stroke-width="1.15"/>
<circle cx="392.00" cy="69.90" r="3.2" fill="none" stroke="#1a1a1a" stroke-width="1.15"/>
<circle cx="395.90" cy="76.00" r="3.2" fill="none" stroke="#1a1a1a" stroke-width="1.15"/>
<circle cx="399.90" cy="69.90" r="3.2" fill="none" stroke="#1a1a1a" stroke-width="1.15"/>
<circle cx="403.40" cy="76.90" r="3.2" fill="none" stroke="#1a1a1a" stroke-width="1.15"/>
<circle cx="417.40" cy="71.60" r="3.2" fill="none" stroke="#1a1a1a" stroke-width="1.15"/>
<circle cx="421.00" cy="66.90" r="3.2" fill="none" stroke="#1a1a1a" stroke-width="1.15"/>
<circle cx="425.00" cy="69.90" r="3.2" fill="none" stroke="#1a1a1a" stroke-width="1.15"/>
<circle cx="428.80" cy="68.10" r="3.2" fill="none" stroke="#1a1a1a" stroke-width="1.15"/>
<circle cx="432.00" cy="72.50" r="3.2" fill="none" stroke="#1a1a1a" stroke-width="1.15"/>
<circle cx="446.40" cy="73.40" r="3.2" fill="none" stroke="#1a1a1a" stroke-width="1.15"/>
<circle cx="449.90" cy="70.40" r="3.2" fill="none" stroke="#1a1a1a" stroke-width="1.15"/>
<circle cx="453.70" cy="75.10" r="3.2" fill="none" stroke="#1a1a1a" stroke-width="1.15"/>
<circle cx="457.70" cy="70.80" r="3.2" fill="none" stroke="#1a1a1a" stroke-width="1.15"/>
<circle cx="461.20" cy="76.90" r="3.2" fill="none" stroke="#1a1a1a" stroke-width="1.15"/>
<circle cx="497.60" cy="149.40" r="3.4" fill="none" stroke="#1a1a1a" stroke-width="1.15"/>
<circle cx="504.60" cy="149.40" r="3.4" fill="none" stroke="#1a1a1a" stroke-width="1.15"/>
<circle cx="512.50" cy="144.00" r="3.4" fill="none" stroke="#1a1a1a" stroke-width="1.15"/>
<circle cx="512.50" cy="154.70" r="3.4" fill="none" stroke="#1a1a1a" stroke-width="1.15"/>
<circle cx="497.60" cy="161.70" r="3.4" fill="none" stroke="#1a1a1a" stroke-width="1.15"/>
<circle cx="526.50" cy="143.70" r="3.4" fill="none" stroke="#1a1a1a" stroke-width="1.15"/>
<circle cx="541.40" cy="140.10" r="3.4" fill="none" stroke="#1a1a1a" stroke-width="1.15"/>
<circle cx="526.50" cy="155.90" r="3.4" fill="none" stroke="#1a1a1a" stroke-width="1.15"/>
<circle cx="540.60" cy="156.80" r="3.4" fill="none" stroke="#1a1a1a" stroke-width="1.15"/>
<circle cx="526.50" cy="162.90" r="3.4" fill="none" stroke="#1a1a1a" stroke-width="1.15"/>
<circle cx="554.90" cy="130.90" r="3.4" fill="none" stroke="#1a1a1a" stroke-width="1.15"/>
<circle cx="560.20" cy="131.90" r="3.4" fill="none" stroke="#1a1a1a" stroke-width="1.15"/>
<circle cx="565.10" cy="131.40" r="3.4" fill="none" stroke="#1a1a1a" stroke-width="1.15"/>
<circle cx="570.00" cy="135.80" r="3.4" fill="none" stroke="#1a1a1a" stroke-width="1.15"/>
<circle cx="562.50" cy="145.90" r="3.4" fill="none" stroke="#1a1a1a" stroke-width="1.15"/>
<circle cx="591.70" cy="129.60" r="3.4" fill="none" stroke="#1a1a1a" stroke-width="1.15"/>
<circle cx="584.00" cy="153.30" r="3.4" fill="none" stroke="#1a1a1a" stroke-width="1.15"/>
<circle cx="599.20" cy="151.20" r="3.4" fill="none" stroke="#1a1a1a" stroke-width="1.15"/>
<circle cx="599.20" cy="159.40" r="3.4" fill="none" stroke="#1a1a1a" stroke-width="1.15"/>
<circle cx="584.00" cy="165.60" r="3.4" fill="none" stroke="#1a1a1a" stroke-width="1.15"/>
<path d="M367.60 59.40 V49.60 H424.30 V59.40" fill="none" stroke="#1a1a1a" stroke-width="1.6"/>
<text x="395.95" y="46.59" font-family='"DejaVu Sans", "Liberation Sans", sans-serif' font-size="19.0" font-weight="bold" text-anchor="middle" fill="#111" stroke="#111" stroke-width="0.5">**</text>
<path d="M504.20 124.00 V114.60 H561.20 V124.00" fill="none" stroke="#1a1a1a" stroke-width="1.6"/>
<text x="532.70" y="111.59" font-family='"DejaVu Sans", "Liberation Sans", sans-serif' font-size="19.0" font-weight="bold" text-anchor="middle" fill="#111" stroke="#111" stroke-width="0.5">**</text>
<line x1="345.00" y1="208.20" x2="614.95" y2="208.20" stroke="#1a1a1a" stroke-width="2.0" />
<line x1="345.00" y1="28.95" x2="345.00" y2="209.20" stroke="#1a1a1a" stroke-width="2.0" />
<line x1="613.95" y1="27.95" x2="613.95" y2="110.00" stroke="#1a1a1a" stroke-width="2.0" />
<line x1="613.95" y1="126.40" x2="613.95" y2="209.20" stroke="#1a1a1a" stroke-width="2.0" />
<line x1="609.00" y1="106.00" x2="619.20" y2="116.00" stroke="#1a1a1a" stroke-width="1.8" />
<line x1="609.00" y1="121.60" x2="619.20" y2="131.60" stroke="#1a1a1a" stroke-width="1.8" />
<line x1="613.95" y1="45.00" x2="621.35" y2="45.00" stroke="#1a1a1a" stroke-width="1.8" />
<text x="624.70" y="50.30" font-family='"Liberation Sans", Arial, sans-serif' font-size="14.8" font-weight="bold" text-anchor="start" fill="#1a1a1a"  stroke="#1a1a1a" stroke-width="0.25">180</text>
<line x1="613.95" y1="69.80" x2="621.35" y2="69.80" stroke="#1a1a1a" stroke-width="1.8" />
<text x="624.70" y="75.10" font-family='"Liberation Sans", Arial, sans-serif' font-size="14.8" font-weight="bold" text-anchor="start" fill="#1a1a1a"  stroke="#1a1a1a" stroke-width="0.25">150</text>
<line x1="613.95" y1="94.60" x2="621.35" y2="94.60" stroke="#1a1a1a" stroke-width="1.8" />
<text x="624.70" y="99.90" font-family='"Liberation Sans", Arial, sans-serif' font-size="14.8" font-weight="bold" text-anchor="start" fill="#1a1a1a"  stroke="#1a1a1a" stroke-width="0.25">120</text>
<line x1="613.95" y1="167.20" x2="621.35" y2="167.20" stroke="#1a1a1a" stroke-width="1.8" />
<text x="624.70" y="172.50" font-family='"Liberation Sans", Arial, sans-serif' font-size="14.8" font-weight="bold" text-anchor="start" fill="#1a1a1a"  stroke="#1a1a1a" stroke-width="0.25">30</text>
<line x1="410.60" y1="208.20" x2="410.60" y2="213.80" stroke="#1a1a1a" stroke-width="1.8" />
<text x="410.60" y="230.40" font-family='"Liberation Sans", Arial, sans-serif' font-size="14.7" font-weight="normal" text-anchor="middle" fill="#111" >NT</text>
<line x1="548.40" y1="208.20" x2="548.40" y2="213.80" stroke="#1a1a1a" stroke-width="1.8" />
<text x="548.40" y="230.40" font-family='"Liberation Sans", Arial, sans-serif' font-size="14.7" font-weight="normal" text-anchor="middle" fill="#111" >LT</text>
<text x="480.20" y="257.50" font-family='"Liberation Sans", Arial, sans-serif' font-size="15.7" font-weight="bold" text-anchor="middle" fill="#1a1a1a"  stroke="#1a1a1a" stroke-width="0.25">Treatment</text>
<text transform="translate(671.10,117.80) rotate(90)" font-family='"Liberation Sans", Arial, sans-serif' font-size="15.7" font-weight="bold" text-anchor="middle" fill="#1a1a1a" stroke="#1a1a1a" stroke-width="0.25">Germination index</text>
<line x1="77.15" y1="273.95" x2="77.15" y2="370.40" stroke="#1a1a1a" stroke-width="2.0" />
<line x1="77.15" y1="388.20" x2="77.15" y2="454.05" stroke="#1a1a1a" stroke-width="2.0" />
<line x1="69.55" y1="274.95" x2="621.65" y2="274.95" stroke="#1a1a1a" stroke-width="2.0" />
<line x1="77.15" y1="453.05" x2="615.05" y2="453.05" stroke="#1a1a1a" stroke-width="2.0" />
<line x1="345.80" y1="274.95" x2="345.80" y2="454.05" stroke="#1a1a1a" stroke-width="2.0" />
<line x1="614.05" y1="274.95" x2="614.05" y2="355.20" stroke="#1a1a1a" stroke-width="2.0" />
<line x1="614.05" y1="373.00" x2="614.05" y2="454.05" stroke="#1a1a1a" stroke-width="2.0" />
<line x1="72.00" y1="377.60" x2="82.40" y2="367.40" stroke="#1a1a1a" stroke-width="1.8" />
<line x1="72.00" y1="393.20" x2="82.40" y2="383.00" stroke="#1a1a1a" stroke-width="1.8" />
<line x1="608.60" y1="351.60" x2="619.00" y2="361.60" stroke="#1a1a1a" stroke-width="1.8" />
<line x1="608.60" y1="367.20" x2="619.00" y2="377.20" stroke="#1a1a1a" stroke-width="1.8" />
<line x1="69.55" y1="274.95" x2="77.15" y2="274.95" stroke="#1a1a1a" stroke-width="1.8" />
<text x="66.60" y="280.25" font-family='"Liberation Sans", Arial, sans-serif' font-size="14.8" font-weight="bold" text-anchor="end" fill="#1a1a1a"  stroke="#1a1a1a" stroke-width="0.25">0.7</text>
<line x1="69.55" y1="307.60" x2="77.15" y2="307.60" stroke="#1a1a1a" stroke-width="1.8" />
<text x="66.60" y="312.90" font-family='"Liberation Sans", Arial, sans-serif' font-size="14.8" font-weight="bold" text-anchor="end" fill="#1a1a1a"  stroke="#1a1a1a" stroke-width="0.25">0.6</text>
<line x1="69.55" y1="340.30" x2="77.15" y2="340.30" stroke="#1a1a1a" stroke-width="1.8" />
<text x="66.60" y="345.60" font-family='"Liberation Sans", Arial, sans-serif' font-size="14.8" font-weight="bold" text-anchor="end" fill="#1a1a1a"  stroke="#1a1a1a" stroke-width="0.25">0.5</text>
<line x1="69.55" y1="427.60" x2="77.15" y2="427.60" stroke="#1a1a1a" stroke-width="1.8" />
<text x="66.60" y="432.90" font-family='"Liberation Sans", Arial, sans-serif' font-size="14.8" font-weight="bold" text-anchor="end" fill="#1a1a1a"  stroke="#1a1a1a" stroke-width="0.25">0.1</text>
<text x="66.60" y="378.30" font-family='"Liberation Sans", Arial, sans-serif' font-size="14.8" font-weight="bold" text-anchor="end" fill="#1a1a1a"  stroke="#1a1a1a" stroke-width="0.25">0.4</text>
<line x1="614.05" y1="274.95" x2="621.45" y2="274.95" stroke="#1a1a1a" stroke-width="1.8" />
<text x="624.80" y="280.25" font-family='"Liberation Sans", Arial, sans-serif' font-size="14.8" font-weight="bold" text-anchor="start" fill="#1a1a1a"  stroke="#1a1a1a" stroke-width="0.25">0.4</text>
<line x1="614.05" y1="315.40" x2="621.45" y2="315.40" stroke="#1a1a1a" stroke-width="1.8" />
<text x="624.80" y="320.70" font-family='"Liberation Sans", Arial, sans-serif' font-size="14.8" font-weight="bold" text-anchor="start" fill="#1a1a1a"  stroke="#1a1a1a" stroke-width="0.25">0.3</text>
<line x1="614.05" y1="408.20" x2="621.45" y2="408.20" stroke="#1a1a1a" stroke-width="1.8" />
<text x="624.80" y="413.50" font-family='"Liberation Sans", Arial, sans-serif' font-size="14.8" font-weight="bold" text-anchor="start" fill="#1a1a1a"  stroke="#1a1a1a" stroke-width="0.25">0.1</text>
<text x="624.80" y="361.70" font-family='"Liberation Sans", Arial, sans-serif' font-size="14.8" font-weight="bold" text-anchor="start" fill="#1a1a1a"  stroke="#1a1a1a" stroke-width="0.25">0.2</text>
<rect x="89.45" y="333.00" width="20.30" height="39.60" fill="#ffffff"/>
<rect x="89.45" y="388.20" width="20.30" height="64.85" fill="#ffffff"/>
<path d="M89.45 372.60 V333.00 H109.75 V372.60 M89.45 388.20 V453.05 M109.75 388.20 V453.05" fill="none" stroke="#303234" stroke-width="1.9"/>
<rect x="118.25" y="333.00" width="20.30" height="39.60" fill="#eff3ff"/>
<rect x="118.25" y="388.20" width="20.30" height="64.85" fill="#eff3ff"/>
<path d="M118.25 372.60 V333.00 H138.55 V372.60 M118.25 388.20 V453.05 M138.55 388.20 V453.05" fill="none" stroke="#303234" stroke-width="1.9"/>
<rect x="147.05" y="321.00" width="20.30" height="51.60" fill="#bdd7e7"/>
<rect x="147.05" y="388.20" width="20.30" height="64.85" fill="#bdd7e7"/>
<path d="M147.05 372.60 V321.00 H167.35 V372.60 M147.05 388.20 V453.05 M167.35 388.20 V453.05" fill="none" stroke="#303234" stroke-width="1.9"/>
<rect x="175.95" y="326.90" width="20.30" height="45.70" fill="#6baed6"/>
<rect x="175.95" y="388.20" width="20.30" height="64.85" fill="#6baed6"/>
<path d="M175.95 372.60 V326.90 H196.25 V372.60 M175.95 388.20 V453.05 M196.25 388.20 V453.05" fill="none" stroke="#303234" stroke-width="1.9"/>
<rect x="226.85" y="421.20" width="20.30" height="31.85" fill="#ffffff"/>
<path d="M226.85 453.05 V421.20 H247.15 V453.05" fill="none" stroke="#303234" stroke-width="1.9"/>
<rect x="255.75" y="417.30" width="20.30" height="35.75" fill="#eff3ff"/>
<path d="M255.75 453.05 V417.30 H276.05 V453.05" fill="none" stroke="#303234" stroke-width="1.9"/>
<rect x="284.55" y="412.60" width="20.30" height="40.45" fill="#bdd7e7"/>
<path d="M284.55 453.05 V412.60 H304.85 V453.05" fill="none" stroke="#303234" stroke-width="1.9"/>
<rect x="313.45" y="417.60" width="20.30" height="35.45" fill="#6baed6"/>
<path d="M313.45 453.05 V417.60 H333.75 V453.05" fill="none" stroke="#303234" stroke-width="1.9"/>
<line x1="99.20" y1="324.60" x2="99.20" y2="333.00" stroke="#333" stroke-width="1.0" />
<line x1="94.70" y1="324.60" x2="103.70" y2="324.60" stroke="#333" stroke-width="1.0" />
<line x1="128.20" y1="329.90" x2="128.20" y2="333.00" stroke="#333" stroke-width="1.0" />
<line x1="123.70" y1="329.90" x2="132.70" y2="329.90" stroke="#333" stroke-width="1.0" />
<line x1="157.00" y1="316.40" x2="157.00" y2="321.00" stroke="#333" stroke-width="1.0" />
<line x1="152.50" y1="316.40" x2="161.50" y2="316.40" stroke="#333" stroke-width="1.0" />
<line x1="186.00" y1="320.40" x2="186.00" y2="326.90" stroke="#333" stroke-width="1.0" />
<line x1="181.50" y1="320.40" x2="190.50" y2="320.40" stroke="#333" stroke-width="1.0" />
<line x1="265.60" y1="412.50" x2="265.60" y2="417.30" stroke="#333" stroke-width="1.0" />
<line x1="261.60" y1="412.50" x2="269.60" y2="412.50" stroke="#333" stroke-width="1.0" />
<circle cx="99.20" cy="321.60" r="3.4" fill="none" stroke="#1a1a1a" stroke-width="1.15"/>
<circle cx="91.60" cy="329.90" r="3.4" fill="none" stroke="#1a1a1a" stroke-width="1.15"/>
<circle cx="106.90" cy="331.30" r="3.4" fill="none" stroke="#1a1a1a" stroke-width="1.15"/>
<circle cx="99.20" cy="336.50" r="3.4" fill="none" stroke="#1a1a1a" stroke-width="1.15"/>
<circle cx="99.20" cy="343.90" r="3.4" fill="none" stroke="#1a1a1a" stroke-width="1.15"/>
<circle cx="125.80" cy="326.40" r="3.4" fill="none" stroke="#1a1a1a" stroke-width="1.15"/>
<circle cx="120.50" cy="330.90" r="3.4" fill="none" stroke="#1a1a1a" stroke-width="1.15"/>
<circle cx="135.40" cy="331.30" r="3.4" fill="none" stroke="#1a1a1a" stroke-width="1.15"/>
<circle cx="130.70" cy="333.90" r="3.4" fill="none" stroke="#1a1a1a" stroke-width="1.15"/>
<circle cx="120.90" cy="338.30" r="3.4" fill="none" stroke="#1a1a1a" stroke-width="1.15"/>
<circle cx="149.40" cy="314.60" r="3.4" fill="none" stroke="#1a1a1a" stroke-width="1.15"/>
<circle cx="164.30" cy="315.50" r="3.4" fill="none" stroke="#1a1a1a" stroke-width="1.15"/>
<circle cx="157.00" cy="319.90" r="3.4" fill="none" stroke="#1a1a1a" stroke-width="1.15"/>
<circle cx="149.40" cy="326.90" r="3.4" fill="none" stroke="#1a1a1a" stroke-width="1.15"/>
<circle cx="164.30" cy="326.00" r="3.4" fill="none" stroke="#1a1a1a" stroke-width="1.15"/>
<circle cx="178.40" cy="316.90" r="3.4" fill="none" stroke="#1a1a1a" stroke-width="1.15"/>
<circle cx="193.20" cy="322.20" r="3.4" fill="none" stroke="#1a1a1a" stroke-width="1.15"/>
<circle cx="178.40" cy="325.10" r="3.4" fill="none" stroke="#1a1a1a" stroke-width="1.15"/>
<circle cx="193.20" cy="330.90" r="3.4" fill="none" stroke="#1a1a1a" stroke-width="1.15"/>
<circle cx="178.40" cy="334.80" r="3.4" fill="none" stroke="#1a1a1a" stroke-width="1.15"/>
<circle cx="233.10" cy="416.90" r="3.3" fill="none" stroke="#1a1a1a" stroke-width="1.15"/>
<circle cx="240.70" cy="417.80" r="3.3" fill="none" stroke="#1a1a1a" stroke-width="1.15"/>
<circle cx="229.60" cy="423.90" r="3.3" fill="none" stroke="#1a1a1a" stroke-width="1.15"/>
<circle cx="237.00" cy="422.20" r="3.3" fill="none" stroke="#1a1a1a" stroke-width="1.15"/>
<circle cx="244.50" cy="423.90" r="3.3" fill="none" stroke="#1a1a1a" stroke-width="1.15"/>
<circle cx="272.90" cy="409.90" r="3.3" fill="none" stroke="#1a1a1a" stroke-width="1.15"/>
<circle cx="258.20" cy="413.40" r="3.3" fill="none" stroke="#1a1a1a" stroke-width="1.15"/>
<circle cx="265.60" cy="416.90" r="3.3" fill="none" stroke="#1a1a1a" stroke-width="1.15"/>
<circle cx="258.20" cy="420.90" r="3.3" fill="none" stroke="#1a1a1a" stroke-width="1.15"/>
<circle cx="272.60" cy="420.90" r="3.3" fill="none" stroke="#1a1a1a" stroke-width="1.15"/>
<circle cx="290.40" cy="409.40" r="3.3" fill="none" stroke="#1a1a1a" stroke-width="1.15"/>
<circle cx="298.00" cy="409.90" r="3.3" fill="none" stroke="#1a1a1a" stroke-width="1.15"/>
<circle cx="287.50" cy="414.30" r="3.3" fill="none" stroke="#1a1a1a" stroke-width="1.15"/>
<circle cx="294.50" cy="412.50" r="3.3" fill="none" stroke="#1a1a1a" stroke-width="1.15"/>
<circle cx="301.50" cy="415.70" r="3.3" fill="none" stroke="#1a1a1a" stroke-width="1.15"/>
<circle cx="316.00" cy="413.40" r="3.3" fill="none" stroke="#1a1a1a" stroke-width="1.15"/>
<circle cx="325.60" cy="411.60" r="3.3" fill="none" stroke="#1a1a1a" stroke-width="1.15"/>
<circle cx="331.20" cy="416.00" r="3.3" fill="none" stroke="#1a1a1a" stroke-width="1.15"/>
<circle cx="325.60" cy="419.50" r="3.3" fill="none" stroke="#1a1a1a" stroke-width="1.15"/>
<circle cx="316.40" cy="422.20" r="3.3" fill="none" stroke="#1a1a1a" stroke-width="1.15"/>
<path d="M98.80 309.20 V300.20 H158.00 V309.20" fill="none" stroke="#1a1a1a" stroke-width="1.6"/>
<text x="128.40" y="297.19" font-family='"DejaVu Sans", "Liberation Sans", sans-serif' font-size="19.0" font-weight="bold" text-anchor="middle" fill="#111" stroke="#111" stroke-width="0.5">***</text>
<path d="M235.80 401.80 V392.30 H292.90 V401.80" fill="none" stroke="#1a1a1a" stroke-width="1.6"/>
<text x="264.35" y="389.29" font-family='"DejaVu Sans", "Liberation Sans", sans-serif' font-size="19.0" font-weight="bold" text-anchor="middle" fill="#111" stroke="#111" stroke-width="0.5">**</text>
<rect x="357.90" y="326.80" width="20.30" height="29.40" fill="#ffffff"/>
<rect x="357.90" y="372.40" width="20.30" height="80.65" fill="#ffffff"/>
<path d="M357.90 356.20 V326.80 H378.20 V356.20 M357.90 372.40 V453.05 M378.20 372.40 V453.05" fill="none" stroke="#303234" stroke-width="1.9"/>
<rect x="386.85" y="324.80" width="20.30" height="31.40" fill="#eff3ff"/>
<rect x="386.85" y="372.40" width="20.30" height="80.65" fill="#eff3ff"/>
<path d="M386.85 356.20 V324.80 H407.15 V356.20 M386.85 372.40 V453.05 M407.15 372.40 V453.05" fill="none" stroke="#303234" stroke-width="1.9"/>
<rect x="415.70" y="312.40" width="20.30" height="43.80" fill="#bdd7e7"/>
<rect x="415.70" y="372.40" width="20.30" height="80.65" fill="#bdd7e7"/>
<path d="M415.70 356.20 V312.40 H436.00 V356.20 M415.70 372.40 V453.05 M436.00 372.40 V453.05" fill="none" stroke="#303234" stroke-width="1.9"/>
<rect x="444.65" y="322.20" width="20.30" height="34.00" fill="#6baed6"/>
<rect x="444.65" y="372.40" width="20.30" height="80.65" fill="#6baed6"/>
<path d="M444.65 356.20 V322.20 H464.95 V356.20 M444.65 372.40 V453.05 M464.95 372.40 V453.05" fill="none" stroke="#303234" stroke-width="1.9"/>
<rect x="495.20" y="405.00" width="20.30" height="48.05" fill="#ffffff"/>
<path d="M495.20 453.05 V405.00 H515.50 V453.05" fill="none" stroke="#303234" stroke-width="1.9"/>
<rect x="524.15" y="401.80" width="20.30" height="51.25" fill="#eff3ff"/>
<path d="M524.15 453.05 V401.80 H544.45 V453.05" fill="none" stroke="#303234" stroke-width="1.9"/>
<rect x="552.95" y="395.80" width="20.30" height="57.25" fill="#bdd7e7"/>
<path d="M552.95 453.05 V395.80 H573.25 V453.05" fill="none" stroke="#303234" stroke-width="1.9"/>
<rect x="581.85" y="388.30" width="20.30" height="64.75" fill="#6baed6"/>
<path d="M581.85 453.05 V388.30 H602.15 V453.05" fill="none" stroke="#303234" stroke-width="1.9"/>
<line x1="367.90" y1="316.90" x2="367.90" y2="326.80" stroke="#333" stroke-width="1.0" />
<line x1="363.90" y1="316.90" x2="371.90" y2="316.90" stroke="#333" stroke-width="1.0" />
<line x1="396.80" y1="310.80" x2="396.80" y2="324.80" stroke="#333" stroke-width="1.0" />
<line x1="392.80" y1="310.80" x2="400.80" y2="310.80" stroke="#333" stroke-width="1.0" />
<line x1="427.00" y1="308.20" x2="427.00" y2="312.40" stroke="#333" stroke-width="1.0" />
<line x1="423.00" y1="308.20" x2="431.00" y2="308.20" stroke="#333" stroke-width="1.0" />
<circle cx="360.50" cy="317.80" r="3.4" fill="none" stroke="#1a1a1a" stroke-width="1.15"/>
<circle cx="375.40" cy="317.80" r="3.4" fill="none" stroke="#1a1a1a" stroke-width="1.15"/>
<circle cx="360.50" cy="325.10" r="3.4" fill="none" stroke="#1a1a1a" stroke-width="1.15"/>
<circle cx="375.40" cy="327.40" r="3.4" fill="none" stroke="#1a1a1a" stroke-width="1.15"/>
<circle cx="367.90" cy="341.40" r="3.4" fill="none" stroke="#1a1a1a" stroke-width="1.15"/>
<circle cx="389.40" cy="308.10" r="3.4" fill="none" stroke="#1a1a1a" stroke-width="1.15"/>
<circle cx="404.00" cy="314.30" r="3.4" fill="none" stroke="#1a1a1a" stroke-width="1.15"/>
<circle cx="396.80" cy="322.20" r="3.4" fill="none" stroke="#1a1a1a" stroke-width="1.15"/>
<circle cx="404.00" cy="333.90" r="3.4" fill="none" stroke="#1a1a1a" stroke-width="1.15"/>
<circle cx="389.40" cy="340.60" r="3.4" fill="none" stroke="#1a1a1a" stroke-width="1.15"/>
<circle cx="418.30" cy="306.90" r="3.4" fill="none" stroke="#1a1a1a" stroke-width="1.15"/>
<circle cx="423.20" cy="308.70" r="3.4" fill="none" stroke="#1a1a1a" stroke-width="1.15"/>
<circle cx="427.60" cy="313.00" r="3.4" fill="none" stroke="#1a1a1a" stroke-width="1.15"/>
<circle cx="432.70" cy="313.00" r="3.4" fill="none" stroke="#1a1a1a" stroke-width="1.15"/>
<circle cx="418.30" cy="315.70" r="3.4" fill="none" stroke="#1a1a1a" stroke-width="1.15"/>
<circle cx="447.20" cy="318.70" r="3.4" fill="none" stroke="#1a1a1a" stroke-width="1.15"/>
<circle cx="451.60" cy="318.70" r="3.4" fill="none" stroke="#1a1a1a" stroke-width="1.15"/>
<circle cx="461.60" cy="321.30" r="3.4" fill="none" stroke="#1a1a1a" stroke-width="1.15"/>
<circle cx="447.20" cy="326.50" r="3.4" fill="none" stroke="#1a1a1a" stroke-width="1.15"/>
<circle cx="456.90" cy="325.10" r="3.4" fill="none" stroke="#1a1a1a" stroke-width="1.15"/>
<circle cx="498.00" cy="399.40" r="3.3" fill="none" stroke="#1a1a1a" stroke-width="1.15"/>
<circle cx="502.90" cy="404.20" r="3.3" fill="none" stroke="#1a1a1a" stroke-width="1.15"/>
<circle cx="507.80" cy="405.00" r="3.3" fill="none" stroke="#1a1a1a" stroke-width="1.15"/>
<circle cx="513.00" cy="403.30" r="3.3" fill="none" stroke="#1a1a1a" stroke-width="1.15"/>
<circle cx="498.00" cy="408.90" r="3.3" fill="none" stroke="#1a1a1a" stroke-width="1.15"/>
<circle cx="526.50" cy="397.20" r="3.3" fill="none" stroke="#1a1a1a" stroke-width="1.15"/>
<circle cx="531.80" cy="399.80" r="3.3" fill="none" stroke="#1a1a1a" stroke-width="1.15"/>
<circle cx="542.00" cy="399.40" r="3.3" fill="none" stroke="#1a1a1a" stroke-width="1.15"/>
<circle cx="536.70" cy="402.40" r="3.3" fill="none" stroke="#1a1a1a" stroke-width="1.15"/>
<circle cx="526.90" cy="405.90" r="3.3" fill="none" stroke="#1a1a1a" stroke-width="1.15"/>
<circle cx="555.50" cy="392.40" r="3.3" fill="none" stroke="#1a1a1a" stroke-width="1.15"/>
<circle cx="560.40" cy="391.40" r="3.3" fill="none" stroke="#1a1a1a" stroke-width="1.15"/>
<circle cx="570.00" cy="394.20" r="3.3" fill="none" stroke="#1a1a1a" stroke-width="1.15"/>
<circle cx="565.10" cy="396.80" r="3.3" fill="none" stroke="#1a1a1a" stroke-width="1.15"/>
<circle cx="555.50" cy="400.70" r="3.3" fill="none" stroke="#1a1a1a" stroke-width="1.15"/>
<circle cx="584.40" cy="384.00" r="3.3" fill="none" stroke="#1a1a1a" stroke-width="1.15"/>
<circle cx="599.20" cy="383.10" r="3.3" fill="none" stroke="#1a1a1a" stroke-width="1.15"/>
<circle cx="591.90" cy="387.50" r="3.3" fill="none" stroke="#1a1a1a" stroke-width="1.15"/>
<circle cx="584.40" cy="392.80" r="3.3" fill="none" stroke="#1a1a1a" stroke-width="1.15"/>
<circle cx="599.20" cy="391.90" r="3.3" fill="none" stroke="#1a1a1a" stroke-width="1.15"/>
<path d="M367.20 306.00 V296.80 H426.80 V306.00" fill="none" stroke="#1a1a1a" stroke-width="1.6"/>
<text x="397.00" y="293.79" font-family='"DejaVu Sans", "Liberation Sans", sans-serif' font-size="19.0" font-weight="bold" text-anchor="middle" fill="#111" stroke="#111" stroke-width="0.5">**</text>
<path d="M502.40 364.60 V355.10 H590.70 V364.60" fill="none" stroke="#1a1a1a" stroke-width="1.6"/>
<text x="546.55" y="352.09" font-family='"DejaVu Sans", "Liberation Sans", sans-serif' font-size="19.0" font-weight="bold" text-anchor="middle" fill="#111" stroke="#111" stroke-width="0.5">***</text>
<path d="M502.20 387.80 V378.30 H561.50 V387.80" fill="none" stroke="#1a1a1a" stroke-width="1.6"/>
<text x="531.85" y="375.29" font-family='"DejaVu Sans", "Liberation Sans", sans-serif' font-size="19.0" font-weight="bold" text-anchor="middle" fill="#111" stroke="#111" stroke-width="0.5">**</text>
<line x1="77.15" y1="453.05" x2="615.05" y2="453.05" stroke="#1a1a1a" stroke-width="2.0" />
<line x1="345.80" y1="274.95" x2="345.80" y2="454.05" stroke="#1a1a1a" stroke-width="2.0" />
<line x1="142.60" y1="453.05" x2="142.60" y2="458.45" stroke="#1a1a1a" stroke-width="1.8" />
<text x="142.60" y="474.90" font-family='"Liberation Sans", Arial, sans-serif' font-size="14.7" font-weight="normal" text-anchor="middle" fill="#111" >NT</text>
<line x1="279.90" y1="453.05" x2="279.90" y2="458.45" stroke="#1a1a1a" stroke-width="1.8" />
<text x="279.90" y="474.90" font-family='"Liberation Sans", Arial, sans-serif' font-size="14.7" font-weight="normal" text-anchor="middle" fill="#111" >LT</text>
<line x1="411.10" y1="453.05" x2="411.10" y2="458.45" stroke="#1a1a1a" stroke-width="1.8" />
<text x="411.10" y="474.90" font-family='"Liberation Sans", Arial, sans-serif' font-size="14.7" font-weight="normal" text-anchor="middle" fill="#111" >NT</text>
<line x1="548.60" y1="453.05" x2="548.60" y2="458.45" stroke="#1a1a1a" stroke-width="1.8" />
<text x="548.60" y="474.90" font-family='"Liberation Sans", Arial, sans-serif' font-size="14.7" font-weight="normal" text-anchor="middle" fill="#111" >LT</text>
<text x="212.40" y="493.20" font-family='"Liberation Sans", Arial, sans-serif' font-size="15.5" font-weight="bold" text-anchor="middle" fill="#1a1a1a"  stroke="#1a1a1a" stroke-width="0.25">Treatment</text>
<text x="481.00" y="493.20" font-family='"Liberation Sans", Arial, sans-serif' font-size="15.5" font-weight="bold" text-anchor="middle" fill="#1a1a1a"  stroke="#1a1a1a" stroke-width="0.25">Treatment</text>
<text transform="translate(13.40,360.00) rotate(-90)" font-family='"Liberation Sans", Arial, sans-serif' font-size="15.6" font-weight="bold" text-anchor="middle" fill="#1a1a1a" stroke="#1a1a1a" stroke-width="0.25">Shoot dry matter weight</text>
<text transform="translate(33.00,362.60) rotate(-90)" font-family='"Liberation Sans", Arial, sans-serif' font-size="15.6" font-weight="bold" text-anchor="middle" fill="#1a1a1a" stroke="#1a1a1a" stroke-width="0.25">per seedlings (mg)</text>
<text transform="translate(672.80,365.40) rotate(90)" font-family='"Liberation Sans", Arial, sans-serif' font-size="15.5" font-weight="bold" text-anchor="middle" fill="#1a1a1a" stroke="#1a1a1a" stroke-width="0.25">Root dry matter weight</text>
<text transform="translate(654.20,363.20) rotate(90)" font-family='"Liberation Sans", Arial, sans-serif' font-size="15.5" font-weight="bold" text-anchor="middle" fill="#1a1a1a" stroke="#1a1a1a" stroke-width="0.25">per seedlings (mg)</text>
<rect x="78.6" y="506.6" width="266.2" height="140.0" fill="#000"/>
<rect x="347.8" y="506.1" width="265.7" height="140.5" fill="#000"/>
<text x="137.70" y="528.20" font-family='"Liberation Serif", "Times New Roman", serif' font-size="13.6" font-weight="bold" text-anchor="middle" fill="#fff" >12h</text>
<text x="200.90" y="528.20" font-family='"Liberation Serif", "Times New Roman", serif' font-size="13.6" font-weight="bold" text-anchor="middle" fill="#fff" >24h</text>
<text x="284.80" y="528.20" font-family='"Liberation Serif", "Times New Roman", serif' font-size="13.6" font-weight="bold" text-anchor="middle" fill="#fff" >48h</text>
<text x="406.40" y="528.20" font-family='"Liberation Serif", "Times New Roman", serif' font-size="13.6" font-weight="bold" text-anchor="middle" fill="#fff" >12h</text>
<text x="469.90" y="528.20" font-family='"Liberation Serif", "Times New Roman", serif' font-size="13.6" font-weight="bold" text-anchor="middle" fill="#fff" >24h</text>
<text x="553.40" y="528.20" font-family='"Liberation Serif", "Times New Roman", serif' font-size="13.6" font-weight="bold" text-anchor="middle" fill="#fff" >48h</text>
<text x="84.30" y="581.00" font-family='"Liberation Serif", "Times New Roman", serif' font-size="13.6" font-weight="bold" text-anchor="start" fill="#fff" >NNT</text>
<text x="84.30" y="628.80" font-family='"Liberation Serif", "Times New Roman", serif' font-size="13.6" font-weight="bold" text-anchor="start" fill="#fff" >PNT</text>
<text x="353.00" y="576.20" font-family='"Liberation Serif", "Times New Roman", serif' font-size="13.6" font-weight="bold" text-anchor="start" fill="#fff" >NLT</text>
<text x="353.00" y="624.20" font-family='"Liberation Serif", "Times New Roman", serif' font-size="13.6" font-weight="bold" text-anchor="start" fill="#fff" >PLT</text>
<defs>
<linearGradient id="sg" x1="0" y1="0" x2="1" y2="0"><stop offset="0" stop-color="#b07c3a"/><stop offset="0.14" stop-color="#d6a35c"/><stop offset="0.4" stop-color="#ebc184"/><stop offset="0.65" stop-color="#dca75e"/><stop offset="0.88" stop-color="#c8914a"/><stop offset="1" stop-color="#98682c"/></linearGradient>
<linearGradient id="sg2" x1="0" y1="0" x2="1" y2="0"><stop offset="0" stop-color="#a86f28"/><stop offset="0.12" stop-color="#d3953d"/><stop offset="0.35" stop-color="#e7b05e"/><stop offset="0.62" stop-color="#d6933a"/><stop offset="0.88" stop-color="#b87a2a"/><stop offset="1" stop-color="#7d4f1c"/></linearGradient>
<linearGradient id="sh" x1="0" y1="0" x2="0" y2="1"><stop offset="0" stop-color="#000" stop-opacity="0"/><stop offset="0.7" stop-color="#000" stop-opacity="0"/><stop offset="1" stop-color="#3a2208" stop-opacity="0.28"/></linearGradient>
<filter id="bl" x="-20%" y="-20%" width="140%" height="140%"><feGaussianBlur stdDeviation="0.45"/></filter>
<filter id="bl2" x="-20%" y="-20%" width="140%" height="140%"><feGaussianBlur stdDeviation="0.35"/></filter>
</defs>
<g transform="translate(127.9,574.4) rotate(-3)" filter="url(#bl)">
<path d="M0 -9.40 C4.80 -9.40 6.18 -4.69 6.00 2.37 C5.70 8.15 3.30 12.00 0 12.00 C-3.30 12.00 -5.70 8.15 -6.00 2.37 C-6.18 -4.69 -4.80 -9.40 0 -9.40Z" fill="url(#sg)"/>
<path d="M0 -9.40 C4.80 -9.40 6.18 -4.69 6.00 2.37 C5.70 8.15 3.30 12.00 0 12.00 C-3.30 12.00 -5.70 8.15 -6.00 2.37 C-6.18 -4.69 -4.80 -9.40 0 -9.40Z" fill="url(#sh)"/>
<ellipse cx="-0.4" cy="-9.0" rx="2.6" ry="3.1" fill="#f8f3e6"/>
<ellipse cx="-0.10000000000000003" cy="-5.6" rx="1.6" ry="2.2" fill="#f0dcb4" opacity="0.8"/>
</g>
<g transform="translate(145.5,574.5) rotate(2)" filter="url(#bl)">
<path d="M0 -10.40 C5.04 -10.40 6.49 -5.25 6.30 2.47 C5.98 8.79 3.47 13.00 0 13.00 C-3.47 13.00 -5.98 8.79 -6.30 2.47 C-6.49 -5.25 -5.04 -10.40 0 -10.40Z" fill="url(#sg)"/>
<path d="M0 -10.40 C5.04 -10.40 6.49 -5.25 6.30 2.47 C5.98 8.79 3.47 13.00 0 13.00 C-3.47 13.00 -5.98 8.79 -6.30 2.47 C-6.49 -5.25 -5.04 -10.40 0 -10.40Z" fill="url(#sh)"/>
<ellipse cx="-0.4" cy="-10.0" rx="2.8" ry="3.1" fill="#f8f3e6"/>
<ellipse cx="-0.10000000000000003" cy="-6.6" rx="1.6" ry="2.2" fill="#f0dcb4" opacity="0.8"/>
</g>
<g transform="translate(131.4,623.4) rotate(-4)" filter="url(#bl)">
<path d="M0 -9.40 C5.12 -9.40 6.59 -4.69 6.40 2.37 C6.08 8.15 3.52 12.00 0 12.00 C-3.52 12.00 -6.08 8.15 -6.40 2.37 C-6.59 -4.69 -5.12 -9.40 0 -9.40Z" fill="url(#sg)"/>
<path d="M0 -9.40 C5.12 -9.40 6.59 -4.69 6.40 2.37 C6.08 8.15 3.52 12.00 0 12.00 C-3.52 12.00 -6.08 8.15 -6.40 2.37 C-6.59 -4.69 -5.12 -9.40 0 -9.40Z" fill="url(#sh)"/>
<ellipse cx="-0.4" cy="-9.0" rx="2.8" ry="3.1" fill="#f8f3e6"/>
<ellipse cx="-0.10000000000000003" cy="-5.6" rx="1.7" ry="2.2" fill="#f0dcb4" opacity="0.8"/>
</g>
<g transform="translate(146.5,621.6) rotate(4)" filter="url(#bl)">
<path d="M0 -9.40 C4.92 -9.40 6.33 -4.69 6.15 2.37 C5.84 8.15 3.38 12.00 0 12.00 C-3.38 12.00 -5.84 8.15 -6.15 2.37 C-6.33 -4.69 -4.92 -9.40 0 -9.40Z" fill="url(#sg)"/>
<path d="M0 -9.40 C4.92 -9.40 6.33 -4.69 6.15 2.37 C5.84 8.15 3.38 12.00 0 12.00 C-3.38 12.00 -5.84 8.15 -6.15 2.37 C-6.33 -4.69 -4.92 -9.40 0 -9.40Z" fill="url(#sh)"/>
<ellipse cx="-0.4" cy="-9.0" rx="2.7" ry="3.1" fill="#f8f3e6"/>
<ellipse cx="-0.10000000000000003" cy="-5.6" rx="1.6" ry="2.2" fill="#f0dcb4" opacity="0.8"/>
</g>
<g transform="translate(189.4,576.3) rotate(0)" filter="url(#bl)">
<path d="M0 -8.80 C4.92 -8.80 6.33 -4.36 6.15 2.31 C5.84 7.76 3.38 11.40 0 11.40 C-3.38 11.40 -5.84 7.76 -6.15 2.31 C-6.33 -4.36 -4.92 -8.80 0 -8.80Z" fill="url(#sg)"/>
<path d="M0 -8.80 C4.92 -8.80 6.33 -4.36 6.15 2.31 C5.84 7.76 3.38 11.40 0 11.40 C-3.38 11.40 -5.84 7.76 -6.15 2.31 C-6.33 -4.36 -4.92 -8.80 0 -8.80Z" fill="url(#sh)"/>
<ellipse cx="-0.4" cy="-8.4" rx="2.7" ry="3.1" fill="#f8f3e6"/>
<ellipse cx="-0.10000000000000003" cy="-5.0" rx="1.6" ry="2.2" fill="#f0dcb4" opacity="0.8"/>
</g>
<path d="M188.5 566.5 C185 561 181 562 181.2 567 C181.4 570 183 571.5 184.5 570" fill="none" stroke="#b8b09a" stroke-width="4.0" stroke-linecap="round" stroke-linejoin="round" opacity="0.28" filter="url(#bl)"/>
<path d="M188.5 566.5 C185 561 181 562 181.2 567 C181.4 570 183 571.5 184.5 570" fill="none" stroke="#ece6d6" stroke-width="2.0" stroke-linecap="round" stroke-linejoin="round" opacity="0.92" filter="url(#bl2)"/>
<path d="M190 566 C193 565.2 195.5 565.4 197.6 565.8" fill="none" stroke="#b8b09a" stroke-width="3.5" stroke-linecap="round" stroke-linejoin="round" opacity="0.28" filter="url(#bl)"/>
<path d="M190 566 C193 565.2 195.5 565.4 197.6 565.8" fill="none" stroke="#ddd6c2" stroke-width="1.5" stroke-linecap="round" stroke-linejoin="round" opacity="0.92" filter="url(#bl2)"/>
<g transform="translate(211.8,576.0) rotate(0)" filter="url(#bl)">
<path d="M0 -8.50 C5.20 -8.50 6.70 -4.19 6.50 2.28 C6.17 7.57 3.58 11.10 0 11.10 C-3.58 11.10 -6.17 7.57 -6.50 2.28 C-6.70 -4.19 -5.20 -8.50 0 -8.50Z" fill="url(#sg)"/>
<path d="M0 -8.50 C5.20 -8.50 6.70 -4.19 6.50 2.28 C6.17 7.57 3.58 11.10 0 11.10 C-3.58 11.10 -6.17 7.57 -6.50 2.28 C-6.70 -4.19 -5.20 -8.50 0 -8.50Z" fill="url(#sh)"/>
<ellipse cx="-0.4" cy="-8.1" rx="2.9" ry="3.1" fill="#f8f3e6"/>
<ellipse cx="-0.10000000000000003" cy="-4.7" rx="1.7" ry="2.2" fill="#f0dcb4" opacity="0.8"/>
</g>
<path d="M210.6 566.5 C210.2 561 209.9 555 209.6 549.6" fill="none" stroke="#b8b09a" stroke-width="4.0" stroke-linecap="round" stroke-linejoin="round" opacity="0.28" filter="url(#bl)"/>
<path d="M210.6 566.5 C210.2 561 209.9 555 209.6 549.6" fill="none" stroke="#ece6d6" stroke-width="2.0" stroke-linecap="round" stroke-linejoin="round" opacity="0.92" filter="url(#bl2)"/>
<path d="M201.2 562.8 C205 564.5 208 565.5 210.6 565.6 C214 565.4 217 564.6 220.0 563.6" fill="none" stroke="#b8b09a" stroke-width="3.9" stroke-linecap="round" stroke-linejoin="round" opacity="0.28" filter="url(#bl)"/>
<path d="M201.2 562.8 C205 564.5 208 565.5 210.6 565.6 C214 565.4 217 564.6 220.0 563.6" fill="none" stroke="#ece6d6" stroke-width="1.9" stroke-linecap="round" stroke-linejoin="round" opacity="0.92" filter="url(#bl2)"/>
<g transform="translate(192.9,623.8) rotate(-3)" filter="url(#bl)">
<path d="M0 -9.05 C4.92 -9.05 6.33 -4.50 6.15 2.34 C5.84 7.92 3.38 11.65 0 11.65 C-3.38 11.65 -5.84 7.92 -6.15 2.34 C-6.33 -4.50 -4.92 -9.05 0 -9.05Z" fill="url(#sg)"/>
<path d="M0 -9.05 C4.92 -9.05 6.33 -4.50 6.15 2.34 C5.84 7.92 3.38 11.65 0 11.65 C-3.38 11.65 -5.84 7.92 -6.15 2.34 C-6.33 -4.50 -4.92 -9.05 0 -9.05Z" fill="url(#sh)"/>
<ellipse cx="-0.4" cy="-8.7" rx="2.7" ry="3.1" fill="#f8f3e6"/>
<ellipse cx="-0.10000000000000003" cy="-5.2" rx="1.6" ry="2.2" fill="#f0dcb4" opacity="0.8"/>
</g>
<path d="M191 614 C188 609 183 609.5 178.2 617" fill="none" stroke="#b8b09a" stroke-width="4.1" stroke-linecap="round" stroke-linejoin="round" opacity="0.28" filter="url(#bl)"/>
<path d="M191 614 C188 609 183 609.5 178.2 617" fill="none" stroke="#ece6d6" stroke-width="2.1" stroke-linecap="round" stroke-linejoin="round" opacity="0.92" filter="url(#bl2)"/>
<path d="M189 613 C186 611 182 612.5 180 615" fill="none" stroke="#b8b09a" stroke-width="3.2" stroke-linecap="round" stroke-linejoin="round" opacity="0.28" filter="url(#bl)"/>
<path d="M189 613 C186 611 182 612.5 180 615" fill="none" stroke="#ddd6c2" stroke-width="1.2" stroke-linecap="round" stroke-linejoin="round" opacity="0.92" filter="url(#bl2)"/>
<path d="M195 614.6 C200 615.2 205 617 210.4 618" fill="none" stroke="#b8b09a" stroke-width="3.0" stroke-linecap="round" stroke-linejoin="round" opacity="0.28" filter="url(#bl)"/>
<path d="M195 614.6 C200 615.2 205 617 210.4 618" fill="none" stroke="#ddd6c2" stroke-width="1.0" stroke-linecap="round" stroke-linejoin="round" opacity="0.85" filter="url(#bl2)"/>
<g transform="translate(218.0,622.7) rotate(2)" filter="url(#bl)">
<path d="M0 -8.75 C5.20 -8.75 6.70 -4.33 6.50 2.31 C6.17 7.73 3.58 11.35 0 11.35 C-3.58 11.35 -6.17 7.73 -6.50 2.31 C-6.70 -4.33 -5.20 -8.75 0 -8.75Z" fill="url(#sg)"/>
<path d="M0 -8.75 C5.20 -8.75 6.70 -4.33 6.50 2.31 C6.17 7.73 3.58 11.35 0 11.35 C-3.58 11.35 -6.17 7.73 -6.50 2.31 C-6.70 -4.33 -5.20 -8.75 0 -8.75Z" fill="url(#sh)"/>
<ellipse cx="-0.4" cy="-8.3" rx="2.9" ry="3.1" fill="#f8f3e6"/>
<ellipse cx="-0.10000000000000003" cy="-4.9" rx="1.7" ry="2.2" fill="#f0dcb4" opacity="0.8"/>
</g>
<path d="M216.5 613 C216 608 217.5 604.6 219.4 604.8 C221 605.4 219.6 609 218.4 612" fill="none" stroke="#b8b09a" stroke-width="4.2" stroke-linecap="round" stroke-linejoin="round" opacity="0.28" filter="url(#bl)"/>
<path d="M216.5 613 C216 608 217.5 604.6 219.4 604.8 C221 605.4 219.6 609 218.4 612" fill="none" stroke="#ece6d6" stroke-width="2.2" stroke-linecap="round" stroke-linejoin="round" opacity="0.92" filter="url(#bl2)"/>
<path d="M220 613 C224 612.2 229 613 233.4 614" fill="none" stroke="#b8b09a" stroke-width="3.1" stroke-linecap="round" stroke-linejoin="round" opacity="0.28" filter="url(#bl)"/>
<path d="M220 613 C224 612.2 229 613 233.4 614" fill="none" stroke="#ddd6c2" stroke-width="1.1" stroke-linecap="round" stroke-linejoin="round" opacity="0.92" filter="url(#bl2)"/>
<g transform="translate(274.5,579.4) rotate(0)" filter="url(#bl)">
<path d="M0 -8.80 C4.32 -8.80 5.56 -4.80 5.40 1.21 C5.13 6.12 2.97 9.40 0 9.40 C-2.97 9.40 -5.13 6.12 -5.40 1.21 C-5.56 -4.80 -4.32 -8.80 0 -8.80Z" fill="url(#sg2)"/>
<path d="M0 -8.80 C4.32 -8.80 5.56 -4.80 5.40 1.21 C5.13 6.12 2.97 9.40 0 9.40 C-2.97 9.40 -5.13 6.12 -5.40 1.21 C-5.56 -4.80 -4.32 -8.80 0 -8.80Z" fill="url(#sh)"/>
<ellipse cx="-0.4" cy="-6.4" rx="2.4" ry="3.1" fill="#f8f3e6"/>
<ellipse cx="-0.10000000000000003" cy="-3.0" rx="1.4" ry="2.2" fill="#f0dcb4" opacity="0.8"/>
</g>
<g transform="translate(308.2,578.6) rotate(0)" filter="url(#bl)">
<path d="M0 -9.50 C4.52 -9.50 5.82 -5.19 5.65 1.28 C5.37 6.57 3.11 10.10 0 10.10 C-3.11 10.10 -5.37 6.57 -5.65 1.28 C-5.82 -5.19 -4.52 -9.50 0 -9.50Z" fill="url(#sg2)"/>
<path d="M0 -9.50 C4.52 -9.50 5.82 -5.19 5.65 1.28 C5.37 6.57 3.11 10.10 0 10.10 C-3.11 10.10 -5.37 6.57 -5.65 1.28 C-5.82 -5.19 -4.52 -9.50 0 -9.50Z" fill="url(#sh)"/>
<ellipse cx="-0.4" cy="-7.1" rx="2.5" ry="3.1" fill="#f8f3e6"/>
<ellipse cx="-0.10000000000000003" cy="-3.7" rx="1.5" ry="2.2" fill="#f0dcb4" opacity="0.8"/>
</g>
<path d="M274.9 570 C274.6 562 274.4 555 272.6 551 C271 548 267 547.6 263.6 548.8" fill="none" stroke="#b8b09a" stroke-width="3.5" stroke-linecap="round" stroke-linejoin="round" opacity="0.28" filter="url(#bl)"/>
<path d="M274.9 570 C274.6 562 274.4 555 272.6 551 C271 548 267 547.6 263.6 548.8" fill="none" stroke="#ddd6c2" stroke-width="1.5" stroke-linecap="round" stroke-linejoin="round" opacity="0.92" filter="url(#bl2)"/>
<path d="M273.4 569.6 C266 566 258 561.6 249.0 560.4" fill="none" stroke="#b8b09a" stroke-width="3.6" stroke-linecap="round" stroke-linejoin="round" opacity="0.28" filter="url(#bl)"/>
<path d="M273.4 569.6 C266 566 258 561.6 249.0 560.4" fill="none" stroke="#ddd6c2" stroke-width="1.6" stroke-linecap="round" stroke-linejoin="round" opacity="0.92" filter="url(#bl2)"/>
<path d="M277.6 570.4 C285 574 294 582 302.6 588.6" fill="none" stroke="#b8b09a" stroke-width="3.3" stroke-linecap="round" stroke-linejoin="round" opacity="0.28" filter="url(#bl)"/>
<path d="M277.6 570.4 C285 574 294 582 302.6 588.6" fill="none" stroke="#ddd6c2" stroke-width="1.3" stroke-linecap="round" stroke-linejoin="round" opacity="0.92" filter="url(#bl2)"/>
<path d="M278.4 570.4 C287 571.4 294 572.8 300.2 570.6 C301.6 566 303.4 563.8 305.6 564.2" fill="none" stroke="#b8b09a" stroke-width="3.2" stroke-linecap="round" stroke-linejoin="round" opacity="0.28" filter="url(#bl)"/>
<path d="M278.4 570.4 C287 571.4 294 572.8 300.2 570.6 C301.6 566 303.4 563.8 305.6 564.2" fill="none" stroke="#ddd6c2" stroke-width="1.2" stroke-linecap="round" stroke-linejoin="round" opacity="0.92" filter="url(#bl2)"/>
<path d="M290 576 C296 577 300 574 302 571" fill="none" stroke="#b8b09a" stroke-width="3.0" stroke-linecap="round" stroke-linejoin="round" opacity="0.28" filter="url(#bl)"/>
<path d="M290 576 C296 577 300 574 302 571" fill="none" stroke="#ddd6c2" stroke-width="1.0" stroke-linecap="round" stroke-linejoin="round" opacity="0.8" filter="url(#bl2)"/>
<path d="M306.6 568.6 C303 564 308 562.6 309.4 566 C314 570 324 574.6 341.4 567.6" fill="none" stroke="#b8b09a" stroke-width="3.4" stroke-linecap="round" stroke-linejoin="round" opacity="0.28" filter="url(#bl)"/>
<path d="M306.6 568.6 C303 564 308 562.6 309.4 566 C314 570 324 574.6 341.4 567.6" fill="none" stroke="#ddd6c2" stroke-width="1.4" stroke-linecap="round" stroke-linejoin="round" opacity="0.92" filter="url(#bl2)"/>
<path d="M309.8 569.8 C311.4 574 309 580 306.0 582.8" fill="none" stroke="#b8b09a" stroke-width="4.2" stroke-linecap="round" stroke-linejoin="round" opacity="0.28" filter="url(#bl)"/>
<path d="M309.8 569.8 C311.4 574 309 580 306.0 582.8" fill="none" stroke="#f4efdd" stroke-width="2.2" stroke-linecap="round" stroke-linejoin="round" opacity="0.92" filter="url(#bl2)"/>
<g transform="translate(275.3,625.2) rotate(0)" filter="url(#bl)">
<path d="M0 -8.40 C4.32 -8.40 5.56 -4.57 5.40 1.17 C5.13 5.87 2.97 9.00 0 9.00 C-2.97 9.00 -5.13 5.87 -5.40 1.17 C-5.56 -4.57 -4.32 -8.40 0 -8.40Z" fill="url(#sg2)"/>
<path d="M0 -8.40 C4.32 -8.40 5.56 -4.57 5.40 1.17 C5.13 5.87 2.97 9.00 0 9.00 C-2.97 9.00 -5.13 5.87 -5.40 1.17 C-5.56 -4.57 -4.32 -8.40 0 -8.40Z" fill="url(#sh)"/>
<ellipse cx="-0.4" cy="-6.0" rx="2.4" ry="3.1" fill="#f8f3e6"/>
<ellipse cx="-0.10000000000000003" cy="-2.6" rx="1.4" ry="2.2" fill="#f0dcb4" opacity="0.8"/>
</g>
<g transform="translate(304.9,625.6) rotate(0)" filter="url(#bl)">
<path d="M0 -8.20 C4.56 -8.20 5.87 -4.46 5.70 1.15 C5.42 5.74 3.14 8.80 0 8.80 C-3.14 8.80 -5.42 5.74 -5.70 1.15 C-5.87 -4.46 -4.56 -8.20 0 -8.20Z" fill="url(#sg2)"/>
<path d="M0 -8.20 C4.56 -8.20 5.87 -4.46 5.70 1.15 C5.42 5.74 3.14 8.80 0 8.80 C-3.14 8.80 -5.42 5.74 -5.70 1.15 C-5.87 -4.46 -4.56 -8.20 0 -8.20Z" fill="url(#sh)"/>
<ellipse cx="-0.4" cy="-5.8" rx="2.5" ry="3.1" fill="#f8f3e6"/>
<ellipse cx="-0.10000000000000003" cy="-2.4" rx="1.5" ry="2.2" fill="#f0dcb4" opacity="0.8"/>
</g>
<path d="M275.4 617 C277.6 625 275 636 268.6 641.2" fill="none" stroke="#f2ecc8" stroke-width="3.1" stroke-linecap="round" stroke-linejoin="round" opacity="0.92" filter="url(#bl2)"/>
<path d="M305.2 618.4 C307.4 626 306 636 301.0 642.0" fill="none" stroke="#f2ecc8" stroke-width="3.1" stroke-linecap="round" stroke-linejoin="round" opacity="0.92" filter="url(#bl2)"/>
<path d="M274.0 615.6 C266 612 259 608 253.8 604.0" fill="none" stroke="#b8b09a" stroke-width="3.4" stroke-linecap="round" stroke-linejoin="round" opacity="0.28" filter="url(#bl)"/>
<path d="M274.0 615.6 C266 612 259 608 253.8 604.0" fill="none" stroke="#ddd6c2" stroke-width="1.4" stroke-linecap="round" stroke-linejoin="round" opacity="0.92" filter="url(#bl2)"/>
<path d="M255.6 620.6 C262 617 270 611 274 609.2 C284 605.6 296 607.6 306.6 607.0" fill="none" stroke="#b8b09a" stroke-width="3.3" stroke-linecap="round" stroke-linejoin="round" opacity="0.28" filter="url(#bl)"/>
<path d="M255.6 620.6 C262 617 270 611 274 609.2 C284 605.6 296 607.6 306.6 607.0" fill="none" stroke="#ddd6c2" stroke-width="1.3" stroke-linecap="round" stroke-linejoin="round" opacity="0.92" filter="url(#bl2)"/>
<path d="M274.6 612 C282 614.4 292 616.4 300 615.6" fill="none" stroke="#b8b09a" stroke-width="3.1" stroke-linecap="round" stroke-linejoin="round" opacity="0.28" filter="url(#bl)"/>
<path d="M274.6 612 C282 614.4 292 616.4 300 615.6" fill="none" stroke="#ddd6c2" stroke-width="1.1" stroke-linecap="round" stroke-linejoin="round" opacity="0.85" filter="url(#bl2)"/>
<path d="M304.6 616.6 C314 615.6 326 611.6 334.0 608.2" fill="none" stroke="#b8b09a" stroke-width="3.3" stroke-linecap="round" stroke-linejoin="round" opacity="0.28" filter="url(#bl)"/>
<path d="M304.6 616.6 C314 615.6 326 611.6 334.0 608.2" fill="none" stroke="#ddd6c2" stroke-width="1.3" stroke-linecap="round" stroke-linejoin="round" opacity="0.92" filter="url(#bl2)"/>
<path d="M303.0 616.2 C297 613.4 290.6 616.6 289.8 622.6 C289.4 628 293.6 631.6 299.0 632.6" fill="none" stroke="#b8b09a" stroke-width="3.2" stroke-linecap="round" stroke-linejoin="round" opacity="0.28" filter="url(#bl)"/>
<path d="M303.0 616.2 C297 613.4 290.6 616.6 289.8 622.6 C289.4 628 293.6 631.6 299.0 632.6" fill="none" stroke="#ddd6c2" stroke-width="1.2" stroke-linecap="round" stroke-linejoin="round" opacity="0.92" filter="url(#bl2)"/>
<path d="M257 619.6 C262 616 268 613 272 610" fill="none" stroke="#b8b09a" stroke-width="3.0" stroke-linecap="round" stroke-linejoin="round" opacity="0.28" filter="url(#bl)"/>
<path d="M257 619.6 C262 616 268 613 272 610" fill="none" stroke="#ddd6c2" stroke-width="1.0" stroke-linecap="round" stroke-linejoin="round" opacity="0.8" filter="url(#bl2)"/>
<g transform="translate(399.9,573.7) rotate(-14)" filter="url(#bl)">
<path d="M0 -8.10 C5.44 -8.10 7.00 -3.96 6.80 2.24 C6.46 7.32 3.74 10.70 0 10.70 C-3.74 10.70 -6.46 7.32 -6.80 2.24 C-7.00 -3.96 -5.44 -8.10 0 -8.10Z" fill="url(#sg)"/>
<path d="M0 -8.10 C5.44 -8.10 7.00 -3.96 6.80 2.24 C6.46 7.32 3.74 10.70 0 10.70 C-3.74 10.70 -6.46 7.32 -6.80 2.24 C-7.00 -3.96 -5.44 -8.10 0 -8.10Z" fill="url(#sh)"/>
<ellipse cx="-0.4" cy="-7.7" rx="3.0" ry="3.1" fill="#f8f3e6"/>
<ellipse cx="-0.10000000000000003" cy="-4.3" rx="1.8" ry="2.2" fill="#f0dcb4" opacity="0.8"/>
</g>
<g transform="translate(413.7,573.8) rotate(-8)" filter="url(#bl)">
<path d="M0 -8.70 C4.80 -8.70 6.18 -4.30 6.00 2.30 C5.70 7.70 3.30 11.30 0 11.30 C-3.30 11.30 -5.70 7.70 -6.00 2.30 C-6.18 -4.30 -4.80 -8.70 0 -8.70Z" fill="url(#sg)"/>
<path d="M0 -8.70 C4.80 -8.70 6.18 -4.30 6.00 2.30 C5.70 7.70 3.30 11.30 0 11.30 C-3.30 11.30 -5.70 7.70 -6.00 2.30 C-6.18 -4.30 -4.80 -8.70 0 -8.70Z" fill="url(#sh)"/>
<ellipse cx="-0.4" cy="-8.3" rx="2.6" ry="3.1" fill="#f8f3e6"/>
<ellipse cx="-0.10000000000000003" cy="-4.9" rx="1.6" ry="2.2" fill="#f0dcb4" opacity="0.8"/>
</g>
<g transform="translate(402.5,620.1) rotate(-3)" filter="url(#bl)">
<path d="M0 -8.80 C4.92 -8.80 6.33 -4.36 6.15 2.31 C5.84 7.76 3.38 11.40 0 11.40 C-3.38 11.40 -5.84 7.76 -6.15 2.31 C-6.33 -4.36 -4.92 -8.80 0 -8.80Z" fill="url(#sg)"/>
<path d="M0 -8.80 C4.92 -8.80 6.33 -4.36 6.15 2.31 C5.84 7.76 3.38 11.40 0 11.40 C-3.38 11.40 -5.84 7.76 -6.15 2.31 C-6.33 -4.36 -4.92 -8.80 0 -8.80Z" fill="url(#sh)"/>
<ellipse cx="-0.4" cy="-8.4" rx="2.7" ry="3.1" fill="#f8f3e6"/>
<ellipse cx="-0.10000000000000003" cy="-5.0" rx="1.6" ry="2.2" fill="#f0dcb4" opacity="0.8"/>
</g>
<g transform="translate(418.3,620.3) rotate(-12)" filter="url(#bl)">
<path d="M0 -9.00 C5.20 -9.00 6.70 -4.47 6.50 2.33 C6.17 7.89 3.58 11.60 0 11.60 C-3.58 11.60 -6.17 7.89 -6.50 2.33 C-6.70 -4.47 -5.20 -9.00 0 -9.00Z" fill="url(#sg)"/>
<path d="M0 -9.00 C5.20 -9.00 6.70 -4.47 6.50 2.33 C6.17 7.89 3.58 11.60 0 11.60 C-3.58 11.60 -6.17 7.89 -6.50 2.33 C-6.70 -4.47 -5.20 -9.00 0 -9.00Z" fill="url(#sh)"/>
<ellipse cx="-0.4" cy="-8.6" rx="2.9" ry="3.1" fill="#f8f3e6"/>
<ellipse cx="-0.10000000000000003" cy="-5.2" rx="1.7" ry="2.2" fill="#f0dcb4" opacity="0.8"/>
</g>
<g transform="translate(460.3,574.5) rotate(2)" filter="url(#bl)">
<path d="M0 -8.80 C5.32 -8.80 6.85 -4.36 6.65 2.31 C6.32 7.76 3.66 11.40 0 11.40 C-3.66 11.40 -6.32 7.76 -6.65 2.31 C-6.85 -4.36 -5.32 -8.80 0 -8.80Z" fill="url(#sg)"/>
<path d="M0 -8.80 C5.32 -8.80 6.85 -4.36 6.65 2.31 C6.32 7.76 3.66 11.40 0 11.40 C-3.66 11.40 -6.32 7.76 -6.65 2.31 C-6.85 -4.36 -5.32 -8.80 0 -8.80Z" fill="url(#sh)"/>
<ellipse cx="-0.4" cy="-8.4" rx="2.9" ry="3.1" fill="#f8f3e6"/>
<ellipse cx="-0.10000000000000003" cy="-5.0" rx="1.7" ry="2.2" fill="#f0dcb4" opacity="0.8"/>
</g>
<g transform="translate(480.1,574.5) rotate(-4)" filter="url(#bl)">
<path d="M0 -8.80 C4.92 -8.80 6.33 -4.36 6.15 2.31 C5.84 7.76 3.38 11.40 0 11.40 C-3.38 11.40 -5.84 7.76 -6.15 2.31 C-6.33 -4.36 -4.92 -8.80 0 -8.80Z" fill="url(#sg)"/>
<path d="M0 -8.80 C4.92 -8.80 6.33 -4.36 6.15 2.31 C5.84 7.76 3.38 11.40 0 11.40 C-3.38 11.40 -5.84 7.76 -6.15 2.31 C-6.33 -4.36 -4.92 -8.80 0 -8.80Z" fill="url(#sh)"/>
<ellipse cx="-0.4" cy="-8.4" rx="2.7" ry="3.1" fill="#f8f3e6"/>
<ellipse cx="-0.10000000000000003" cy="-5.0" rx="1.6" ry="2.2" fill="#f0dcb4" opacity="0.8"/>
</g>
<g transform="translate(463.0,615.5) rotate(0)" filter="url(#bl)">
<path d="M0 -8.90 C4.92 -8.90 6.33 -4.41 6.15 2.32 C5.84 7.83 3.38 11.50 0 11.50 C-3.38 11.50 -5.84 7.83 -6.15 2.32 C-6.33 -4.41 -4.92 -8.90 0 -8.90Z" fill="url(#sg)"/>
<path d="M0 -8.90 C4.92 -8.90 6.33 -4.41 6.15 2.32 C5.84 7.83 3.38 11.50 0 11.50 C-3.38 11.50 -5.84 7.83 -6.15 2.32 C-6.33 -4.41 -4.92 -8.90 0 -8.90Z" fill="url(#sh)"/>
<ellipse cx="-0.4" cy="-8.5" rx="2.7" ry="3.1" fill="#f8f3e6"/>
<ellipse cx="-0.10000000000000003" cy="-5.1" rx="1.6" ry="2.2" fill="#f0dcb4" opacity="0.8"/>
</g>
<g transform="translate(482.4,615.0) rotate(0)" filter="url(#bl)">
<path d="M0 -8.60 C4.80 -8.60 6.18 -4.24 6.00 2.29 C5.70 7.64 3.30 11.20 0 11.20 C-3.30 11.20 -5.70 7.64 -6.00 2.29 C-6.18 -4.24 -4.80 -8.60 0 -8.60Z" fill="url(#sg)"/>
<path d="M0 -8.60 C4.80 -8.60 6.18 -4.24 6.00 2.29 C5.70 7.64 3.30 11.20 0 11.20 C-3.30 11.20 -5.70 7.64 -6.00 2.29 C-6.18 -4.24 -4.80 -8.60 0 -8.60Z" fill="url(#sh)"/>
<ellipse cx="-0.4" cy="-8.2" rx="2.6" ry="3.1" fill="#f8f3e6"/>
<ellipse cx="-0.10000000000000003" cy="-4.8" rx="1.6" ry="2.2" fill="#f0dcb4" opacity="0.8"/>
</g>
<path d="M482.4 606 L482.6 602.8" fill="none" stroke="#b8b09a" stroke-width="3.3" stroke-linecap="round" stroke-linejoin="round" opacity="0.28" filter="url(#bl)"/>
<path d="M482.4 606 L482.6 602.8" fill="none" stroke="#f4ecd6" stroke-width="1.3" stroke-linecap="round" stroke-linejoin="round" opacity="0.92" filter="url(#bl2)"/>
<g transform="translate(540.2,575.8) rotate(-8)" filter="url(#bl)">
<path d="M0 -8.80 C4.92 -8.80 6.33 -4.80 6.15 1.21 C5.84 6.12 3.38 9.40 0 9.40 C-3.38 9.40 -5.84 6.12 -6.15 1.21 C-6.33 -4.80 -4.92 -8.80 0 -8.80Z" fill="url(#sg2)"/>
<path d="M0 -8.80 C4.92 -8.80 6.33 -4.80 6.15 1.21 C5.84 6.12 3.38 9.40 0 9.40 C-3.38 9.40 -5.84 6.12 -6.15 1.21 C-6.33 -4.80 -4.92 -8.80 0 -8.80Z" fill="url(#sh)"/>
<ellipse cx="-0.4" cy="-6.4" rx="2.7" ry="3.1" fill="#f8f3e6"/>
<ellipse cx="-0.10000000000000003" cy="-3.0" rx="1.6" ry="2.2" fill="#f0dcb4" opacity="0.8"/>
</g>
<path d="M538.6 567.6 L537.0 562.6" fill="none" stroke="#b8b09a" stroke-width="4.0" stroke-linecap="round" stroke-linejoin="round" opacity="0.28" filter="url(#bl)"/>
<path d="M538.6 567.6 L537.0 562.6" fill="none" stroke="#f4ecd6" stroke-width="2.0" stroke-linecap="round" stroke-linejoin="round" opacity="0.92" filter="url(#bl2)"/>
<g transform="translate(568.7,574.2) rotate(-12)" filter="url(#bl)">
<path d="M0 -9.50 C4.56 -9.50 5.87 -5.19 5.70 1.28 C5.42 6.57 3.14 10.10 0 10.10 C-3.14 10.10 -5.42 6.57 -5.70 1.28 C-5.87 -5.19 -4.56 -9.50 0 -9.50Z" fill="url(#sg2)"/>
<path d="M0 -9.50 C4.56 -9.50 5.87 -5.19 5.70 1.28 C5.42 6.57 3.14 10.10 0 10.10 C-3.14 10.10 -5.42 6.57 -5.70 1.28 C-5.87 -5.19 -4.56 -9.50 0 -9.50Z" fill="url(#sh)"/>
<ellipse cx="-0.4" cy="-7.1" rx="2.5" ry="3.1" fill="#f8f3e6"/>
<ellipse cx="-0.10000000000000003" cy="-3.7" rx="1.5" ry="2.2" fill="#f0dcb4" opacity="0.8"/>
</g>
<path d="M567.2 565.4 L564.9 557.6" fill="none" stroke="#b8b09a" stroke-width="3.7" stroke-linecap="round" stroke-linejoin="round" opacity="0.28" filter="url(#bl)"/>
<path d="M567.2 565.4 L564.9 557.6" fill="none" stroke="#f4ecd6" stroke-width="1.7" stroke-linecap="round" stroke-linejoin="round" opacity="0.92" filter="url(#bl2)"/>
<g transform="translate(540.3,620.7) rotate(-8)" filter="url(#bl)">
<path d="M0 -8.70 C4.80 -8.70 6.18 -4.74 6.00 1.20 C5.70 6.06 3.30 9.30 0 9.30 C-3.30 9.30 -5.70 6.06 -6.00 1.20 C-6.18 -4.74 -4.80 -8.70 0 -8.70Z" fill="url(#sg2)"/>
<path d="M0 -8.70 C4.80 -8.70 6.18 -4.74 6.00 1.20 C5.70 6.06 3.30 9.30 0 9.30 C-3.30 9.30 -5.70 6.06 -6.00 1.20 C-6.18 -4.74 -4.80 -8.70 0 -8.70Z" fill="url(#sh)"/>
<ellipse cx="-0.4" cy="-6.3" rx="2.6" ry="3.1" fill="#f8f3e6"/>
<ellipse cx="-0.10000000000000003" cy="-2.9" rx="1.6" ry="2.2" fill="#f0dcb4" opacity="0.8"/>
</g>
<path d="M539.6 612.4 L537.1 599.0" fill="none" stroke="#b8b09a" stroke-width="3.6" stroke-linecap="round" stroke-linejoin="round" opacity="0.28" filter="url(#bl)"/>
<path d="M539.6 612.4 L537.1 599.0" fill="none" stroke="#f4ecd6" stroke-width="1.6" stroke-linecap="round" stroke-linejoin="round" opacity="0.92" filter="url(#bl2)"/>
<path d="M541.6 612.4 L545.6 609.2" fill="none" stroke="#b8b09a" stroke-width="3.2" stroke-linecap="round" stroke-linejoin="round" opacity="0.28" filter="url(#bl)"/>
<path d="M541.6 612.4 L545.6 609.2" fill="none" stroke="#f4ecd6" stroke-width="1.2" stroke-linecap="round" stroke-linejoin="round" opacity="0.92" filter="url(#bl2)"/>
<path d="M538.2 613.4 L533.6 611.6" fill="none" stroke="#b8b09a" stroke-width="3.2" stroke-linecap="round" stroke-linejoin="round" opacity="0.28" filter="url(#bl)"/>
<path d="M538.2 613.4 L533.6 611.6" fill="none" stroke="#f4ecd6" stroke-width="1.2" stroke-linecap="round" stroke-linejoin="round" opacity="0.92" filter="url(#bl2)"/>
<g transform="translate(570.0,617.7) rotate(-15)" filter="url(#bl)">
<path d="M0 -9.40 C4.92 -9.40 6.33 -5.13 6.15 1.27 C5.84 6.51 3.38 10.00 0 10.00 C-3.38 10.00 -5.84 6.51 -6.15 1.27 C-6.33 -5.13 -4.92 -9.40 0 -9.40Z" fill="url(#sg2)"/>
<path d="M0 -9.40 C4.92 -9.40 6.33 -5.13 6.15 1.27 C5.84 6.51 3.38 10.00 0 10.00 C-3.38 10.00 -5.84 6.51 -6.15 1.27 C-6.33 -5.13 -4.92 -9.40 0 -9.40Z" fill="url(#sh)"/>
<ellipse cx="-0.4" cy="-7.0" rx="2.7" ry="3.1" fill="#f8f3e6"/>
<ellipse cx="-0.10000000000000003" cy="-3.6" rx="1.6" ry="2.2" fill="#f0dcb4" opacity="0.8"/>
</g>
<path d="M568.8 608.4 L565.2 599.0" fill="none" stroke="#b8b09a" stroke-width="3.9" stroke-linecap="round" stroke-linejoin="round" opacity="0.28" filter="url(#bl)"/>
<path d="M568.8 608.4 L565.2 599.0" fill="none" stroke="#f4ecd6" stroke-width="1.9" stroke-linecap="round" stroke-linejoin="round" opacity="0.92" filter="url(#bl2)"/>
<text x="213.30" y="673.60" font-family='"Liberation Sans", Arial, sans-serif' font-size="17.05" font-weight="bold" text-anchor="middle" fill="#1a1a1a"  stroke="#1a1a1a" stroke-width="0.25">Normal temperature</text>
<text x="478.10" y="673.60" font-family='"Liberation Sans", Arial, sans-serif' font-size="17.1" font-weight="bold" text-anchor="middle" fill="#1a1a1a"  stroke="#1a1a1a" stroke-width="0.25">Low temperature</text>
</svg>
</body></html>
